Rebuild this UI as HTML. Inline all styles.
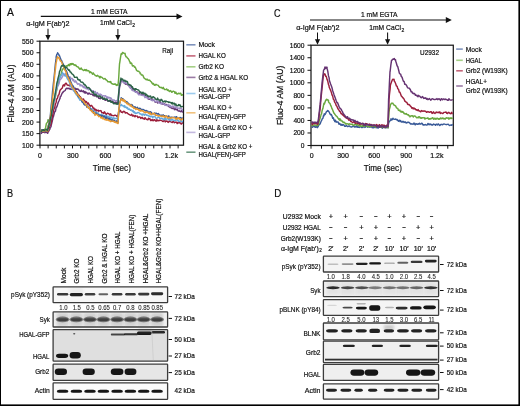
<!DOCTYPE html>
<html><head><meta charset="utf-8"><style>
html,body{margin:0;padding:0;background:#fff;}
body{width:520px;height:406px;overflow:hidden;}
svg{display:block;font-family:"Liberation Sans",sans-serif;}
text{fill:#0e0e0e;stroke:#0e0e0e;stroke-width:0.2px;}
svg{will-change:transform;filter:blur(0.3px);}
text.n{stroke:#1e1e1e;stroke-width:0.08px;fill:#1e1e1e;}
</style></head><body>
<svg width="520" height="406" viewBox="0 0 520 406">
<defs>
<filter id="bl" x="-50%" y="-100%" width="200%" height="300%"><feGaussianBlur stdDeviation="0.5"/></filter><filter id="bl2" x="-50%" y="-50%" width="200%" height="200%"><feGaussianBlur stdDeviation="1.5"/></filter>
<clipPath id="clipA"><rect x="40.5" y="41.7" width="142.5" height="103"/></clipPath>
<clipPath id="clipC"><rect x="311.5" y="45.7" width="141.3" height="99.3"/></clipPath>
</defs>
<rect x="0" y="0" width="520" height="406" fill="#fff"/>
<text x="6.9" y="16.3" font-size="11.5" text-anchor="start" textLength="6.9" lengthAdjust="spacingAndGlyphs" >A</text>
<line x1="40.8" y1="16.4" x2="178.5" y2="16.4" stroke="#111" stroke-width="1.1"/>
<path d="M176.5,13.399999999999999 L182.5,16.4 L176.5,19.4 Z" fill="#111"/>
<text x="91.0" y="13.9" font-size="7.4" text-anchor="start" textLength="36.5" lengthAdjust="spacingAndGlyphs" >1 mM EGTA</text>
<text x="26.2" y="25.8" font-size="7.4" text-anchor="start" textLength="43.3" lengthAdjust="spacingAndGlyphs" >α-IgM F(ab′)2</text>
<text x="100.0" y="25.4" font-size="7.4" text-anchor="start" textLength="31.7" lengthAdjust="spacingAndGlyphs" >1mM CaCl</text>
<text x="132.2" y="27.4" font-size="5" text-anchor="start" >2</text>
<line x1="48" y1="28.8" x2="48" y2="37.5" stroke="#111" stroke-width="1.05"/>
<path d="M45.4,34.9 L50.6,34.9 L48,40.5 Z" fill="#111"/>
<line x1="117.9" y1="29" x2="117.9" y2="37.5" stroke="#111" stroke-width="1.05"/>
<path d="M115.30000000000001,34.9 L120.5,34.9 L117.9,40.5 Z" fill="#111"/>
<rect x="39.9" y="41.2" width="143.6" height="104" fill="none" stroke="#1a1a1a" stroke-width="1.25"/>
<line x1="36.5" y1="41.20" x2="40" y2="41.20" stroke="#111" stroke-width="1"/>
<text x="33.5" y="43.7" font-size="7.4" text-anchor="end" textLength="11.5" lengthAdjust="spacingAndGlyphs" >550</text>
<line x1="36.5" y1="52.76" x2="40" y2="52.76" stroke="#111" stroke-width="1"/>
<text x="33.5" y="55.25555555555556" font-size="7.4" text-anchor="end" textLength="11.5" lengthAdjust="spacingAndGlyphs" >500</text>
<line x1="36.5" y1="64.31" x2="40" y2="64.31" stroke="#111" stroke-width="1"/>
<text x="33.5" y="66.81111111111112" font-size="7.4" text-anchor="end" textLength="11.5" lengthAdjust="spacingAndGlyphs" >450</text>
<line x1="36.5" y1="75.87" x2="40" y2="75.87" stroke="#111" stroke-width="1"/>
<text x="33.5" y="78.36666666666667" font-size="7.4" text-anchor="end" textLength="11.5" lengthAdjust="spacingAndGlyphs" >400</text>
<line x1="36.5" y1="87.42" x2="40" y2="87.42" stroke="#111" stroke-width="1"/>
<text x="33.5" y="89.92222222222222" font-size="7.4" text-anchor="end" textLength="11.5" lengthAdjust="spacingAndGlyphs" >350</text>
<line x1="36.5" y1="98.98" x2="40" y2="98.98" stroke="#111" stroke-width="1"/>
<text x="33.5" y="101.47777777777779" font-size="7.4" text-anchor="end" textLength="11.5" lengthAdjust="spacingAndGlyphs" >300</text>
<line x1="36.5" y1="110.53" x2="40" y2="110.53" stroke="#111" stroke-width="1"/>
<text x="33.5" y="113.03333333333333" font-size="7.4" text-anchor="end" textLength="11.5" lengthAdjust="spacingAndGlyphs" >250</text>
<line x1="36.5" y1="122.09" x2="40" y2="122.09" stroke="#111" stroke-width="1"/>
<text x="33.5" y="124.58888888888889" font-size="7.4" text-anchor="end" textLength="11.5" lengthAdjust="spacingAndGlyphs" >200</text>
<line x1="36.5" y1="133.64" x2="40" y2="133.64" stroke="#111" stroke-width="1"/>
<text x="33.5" y="136.14444444444445" font-size="7.4" text-anchor="end" textLength="11.5" lengthAdjust="spacingAndGlyphs" >150</text>
<line x1="36.5" y1="145.20" x2="40" y2="145.20" stroke="#111" stroke-width="1"/>
<text x="33.5" y="147.7" font-size="7.4" text-anchor="end" textLength="11.5" lengthAdjust="spacingAndGlyphs" >100</text>
<line x1="40.00" y1="145.2" x2="40.00" y2="148.4" stroke="#111" stroke-width="1"/>
<line x1="48.12" y1="145.2" x2="48.12" y2="148.4" stroke="#111" stroke-width="1"/>
<line x1="56.25" y1="145.2" x2="56.25" y2="148.4" stroke="#111" stroke-width="1"/>
<line x1="64.38" y1="145.2" x2="64.38" y2="148.4" stroke="#111" stroke-width="1"/>
<line x1="72.50" y1="145.2" x2="72.50" y2="148.4" stroke="#111" stroke-width="1"/>
<line x1="80.62" y1="145.2" x2="80.62" y2="148.4" stroke="#111" stroke-width="1"/>
<line x1="88.75" y1="145.2" x2="88.75" y2="148.4" stroke="#111" stroke-width="1"/>
<line x1="96.88" y1="145.2" x2="96.88" y2="148.4" stroke="#111" stroke-width="1"/>
<line x1="105.00" y1="145.2" x2="105.00" y2="148.4" stroke="#111" stroke-width="1"/>
<line x1="113.12" y1="145.2" x2="113.12" y2="148.4" stroke="#111" stroke-width="1"/>
<line x1="121.25" y1="145.2" x2="121.25" y2="148.4" stroke="#111" stroke-width="1"/>
<line x1="129.38" y1="145.2" x2="129.38" y2="148.4" stroke="#111" stroke-width="1"/>
<line x1="137.50" y1="145.2" x2="137.50" y2="148.4" stroke="#111" stroke-width="1"/>
<line x1="145.62" y1="145.2" x2="145.62" y2="148.4" stroke="#111" stroke-width="1"/>
<line x1="153.75" y1="145.2" x2="153.75" y2="148.4" stroke="#111" stroke-width="1"/>
<line x1="161.88" y1="145.2" x2="161.88" y2="148.4" stroke="#111" stroke-width="1"/>
<line x1="170.00" y1="145.2" x2="170.00" y2="148.4" stroke="#111" stroke-width="1"/>
<line x1="178.12" y1="145.2" x2="178.12" y2="148.4" stroke="#111" stroke-width="1"/>
<text x="39.9" y="157.8" font-size="7.4" text-anchor="middle" textLength="3.91" lengthAdjust="spacingAndGlyphs" >0</text>
<text x="72.8" y="157.8" font-size="7.4" text-anchor="middle" textLength="11.73" lengthAdjust="spacingAndGlyphs" >300</text>
<text x="105.4" y="157.8" font-size="7.4" text-anchor="middle" textLength="11.73" lengthAdjust="spacingAndGlyphs" >600</text>
<text x="138.8" y="157.8" font-size="7.4" text-anchor="middle" textLength="11.73" lengthAdjust="spacingAndGlyphs" >900</text>
<text x="171.4" y="157.8" font-size="7.4" text-anchor="middle" textLength="13.29" lengthAdjust="spacingAndGlyphs" >1.2k</text>
<text x="92.8" y="170.6" font-size="9.2" text-anchor="start" textLength="38.1" lengthAdjust="spacingAndGlyphs" >Time (sec)</text>
<text x="0" y="0" font-size="9.2" text-anchor="middle" textLength="58" lengthAdjust="spacingAndGlyphs" transform="translate(13.7,93.5) rotate(-90)">Fluo-4 AM (AU)</text>
<text x="162.3" y="52.7" font-size="7.8" text-anchor="start" textLength="10.8" lengthAdjust="spacingAndGlyphs" >Raji</text>
<g clip-path="url(#clipA)">
<polyline points="40.00,130.25 40.70,129.87 41.40,130.85 42.10,129.66 42.80,130.56 43.50,130.19 44.20,129.55 44.90,130.42 45.00,129.47 45.60,127.71 46.30,123.99 46.50,123.18 47.00,122.68 47.70,121.85 48.00,119.75 48.40,120.08 49.10,121.12 49.50,121.90 49.80,120.07 50.50,117.19 51.20,115.83 51.90,111.45 52.00,112.72 52.60,108.80 53.30,105.27 54.00,101.98 54.70,99.12 55.40,96.89 56.10,92.38 56.80,89.94 57.40,87.28 57.50,86.39 58.20,84.27 58.90,80.83 59.60,78.35 60.30,76.17 61.00,74.65 61.70,71.67 62.30,69.33 62.40,69.78 63.10,68.90 63.80,67.98 64.50,68.36 65.20,67.55 65.90,66.03 66.60,66.08 67.20,65.45 67.30,66.12 68.00,65.61 68.70,64.50 69.40,65.67 70.10,63.72 70.80,64.10 71.00,64.71 71.50,63.55 72.20,64.28 72.90,63.44 73.60,64.75 74.30,65.00 74.60,64.65 75.00,65.55 75.70,64.94 76.40,66.22 77.10,66.54 77.80,67.03 78.50,67.30 79.20,68.59 79.90,69.32 80.00,68.45 80.60,69.01 81.30,68.01 82.00,69.50 82.70,69.60 83.40,70.51 84.10,70.37 84.80,69.51 85.00,69.77 85.50,70.57 86.20,69.61 86.90,70.81 87.60,70.55 88.30,70.77 89.00,70.98 89.70,72.73 90.40,71.78 91.10,72.34 91.80,72.96 92.50,74.24 93.20,72.99 93.90,74.05 94.60,74.58 95.30,75.57 96.00,75.77 96.70,76.19 97.40,75.34 98.10,75.94 98.80,76.16 99.50,77.54 100.00,77.92 100.20,76.40 100.90,76.80 101.60,77.26 102.30,77.62 103.00,78.47 103.70,79.03 104.40,78.73 105.10,78.56 105.80,79.74 106.50,79.99 107.20,80.73 107.90,81.86 108.60,81.68 109.30,81.68 110.00,82.24 110.00,82.35 110.70,81.46 111.40,83.50 112.10,83.61 112.80,84.15 113.50,84.35 114.20,83.88 114.90,84.25 115.60,84.01 116.30,85.42 117.00,84.62 117.70,84.98 118.00,85.42 118.40,81.32 118.60,79.68 119.10,70.77 119.50,64.00 119.80,62.30 120.50,57.54 121.00,54.73 121.20,53.72 121.90,54.25 122.20,53.23 122.60,52.44 123.30,52.90 124.00,53.34 124.70,53.62 125.00,53.25 125.40,55.38 126.10,56.86 126.80,56.99 127.50,58.22 128.20,58.61 128.90,59.83 129.60,61.51 130.00,62.03 130.30,63.47 131.00,62.87 131.70,63.33 132.40,65.92 133.10,65.81 133.80,65.78 134.50,67.31 135.20,67.01 135.90,68.75 136.60,70.39 137.30,70.89 138.00,71.29 138.70,71.16 139.40,72.10 140.00,72.33 140.10,73.64 140.80,73.87 141.50,75.06 142.20,74.86 142.90,75.35 143.60,77.22 144.30,78.27 145.00,78.71 145.70,79.31 146.00,79.64 146.40,79.72 147.10,79.13 147.80,80.14 148.50,80.24 149.20,80.01 149.90,80.44 150.60,81.37 151.30,81.76 152.00,83.05 152.70,84.01 153.40,83.42 154.10,84.82 154.80,85.35 155.00,85.41 155.50,84.45 156.20,84.48 156.90,84.81 157.60,85.06 158.30,85.39 159.00,86.55 159.70,87.42 160.40,87.61 161.10,87.20 161.80,87.87 162.50,88.47 163.20,87.36 163.90,88.83 164.60,89.64 165.00,89.56 165.30,89.61 166.00,89.31 166.70,88.95 167.40,90.42 168.10,89.75 168.80,90.93 169.50,91.52 170.20,90.61 170.90,90.87 171.60,92.20 172.30,92.00 173.00,91.14 173.70,91.30 174.40,91.59 175.00,93.31 175.10,93.14 175.80,92.02 176.50,93.58 177.20,94.09 177.90,93.65 178.60,93.24 179.30,93.83 180.00,93.20 180.70,93.17 181.40,95.28 182.10,94.84 182.80,94.80 183.00,95.67" fill="none" stroke="#6aa83e" stroke-width="1.45" stroke-linejoin="round"/>
<polyline points="40.00,132.67 40.70,133.52 41.40,133.40 42.10,132.14 42.80,132.20 43.50,132.25 44.20,132.12 44.90,132.79 45.60,132.11 46.30,132.40 47.00,131.80 47.70,133.33 48.00,132.21 48.40,131.55 49.10,130.28 49.80,129.41 50.50,126.92 51.00,126.84 51.20,125.20 51.90,122.46 52.60,119.65 53.00,117.04 53.30,116.96 54.00,114.31 54.70,111.81 55.40,111.27 56.10,107.87 56.60,106.95 56.80,106.92 57.50,104.73 58.20,102.42 58.90,100.95 59.60,99.17 60.00,98.57 60.30,96.61 61.00,96.12 61.70,94.10 62.40,92.75 63.00,92.54 63.10,91.91 63.80,91.28 64.50,90.94 65.20,90.50 65.90,88.83 66.60,88.43 66.60,88.21 67.30,88.29 68.00,88.71 68.70,88.29 69.40,88.51 70.00,88.46 70.10,89.39 70.80,88.98 71.50,89.40 72.20,89.60 72.90,88.31 73.60,88.98 74.30,89.82 75.00,89.68 75.00,88.27 75.70,88.45 76.40,89.30 77.10,88.78 77.80,89.32 78.50,89.20 79.20,90.60 79.90,91.04 80.60,91.47 81.30,90.20 82.00,91.53 82.70,91.63 83.40,90.81 84.10,92.50 84.80,92.88 85.00,91.44 85.50,93.11 86.20,92.28 86.90,92.73 87.60,94.02 88.30,93.98 89.00,92.92 89.70,93.74 90.40,94.19 91.10,94.12 91.80,94.11 92.50,94.64 93.20,95.72 93.90,94.60 94.60,95.95 95.00,95.88 95.30,95.14 96.00,96.01 96.70,96.84 97.40,96.86 98.10,96.21 98.80,98.30 99.50,98.15 100.20,98.76 100.90,97.27 101.60,97.84 102.30,97.63 103.00,99.36 103.70,98.59 104.40,98.55 105.00,99.34 105.10,100.35 105.80,100.38 106.50,99.48 107.20,99.48 107.90,101.23 108.60,100.75 109.30,101.22 110.00,100.22 110.70,100.37 111.40,101.85 112.10,101.54 112.80,101.04 113.50,102.99 114.20,102.60 114.90,103.15 115.60,101.93 116.30,103.69 117.00,102.33 117.70,104.13 118.00,103.41 118.40,98.18 118.60,96.11 119.10,92.41 119.50,87.54 119.80,85.96 120.50,83.72 121.00,80.98 121.20,80.82 121.90,81.27 122.60,81.40 123.30,82.05 124.00,82.62 124.70,82.96 125.40,84.22 126.00,83.58 126.10,84.08 126.80,83.98 127.50,84.86 128.20,84.75 128.90,85.76 129.60,85.83 130.30,87.81 131.00,87.99 131.70,87.81 132.40,88.93 133.10,90.39 133.80,89.28 134.50,91.25 135.00,90.86 135.20,91.10 135.90,92.15 136.60,91.64 137.30,92.24 138.00,92.98 138.70,93.94 139.40,93.03 140.10,94.38 140.80,94.51 141.50,94.74 142.20,94.65 142.90,94.91 143.60,94.70 144.30,95.22 145.00,95.47 145.70,97.19 146.40,96.59 147.10,96.78 147.80,97.00 148.50,98.88 149.20,99.31 149.90,99.29 150.00,98.56 150.60,98.72 151.30,99.11 152.00,99.72 152.70,99.40 153.40,100.25 154.10,100.17 154.80,101.84 155.50,102.15 156.20,101.57 156.90,101.25 157.60,102.97 158.30,101.94 159.00,102.31 159.70,101.88 160.40,102.92 161.10,103.39 161.80,103.73 162.50,103.40 163.20,104.29 163.90,103.57 164.60,104.37 165.00,104.18 165.30,104.92 166.00,104.47 166.70,104.71 167.40,105.54 168.10,105.67 168.80,106.65 169.50,106.81 170.20,107.52 170.90,107.61 171.60,108.00 172.30,108.60 173.00,107.89 173.70,108.04 174.40,109.63 175.10,108.23 175.80,109.65 176.50,109.76 177.20,108.83 177.90,110.69 178.60,111.07 179.30,110.82 180.00,111.30 180.70,111.73 181.40,110.66 182.10,111.70 182.80,111.93 183.00,112.67" fill="none" stroke="#663372" stroke-width="1.45" stroke-linejoin="round"/>
<polyline points="40.00,131.21 40.70,131.25 41.40,130.77 42.10,131.39 42.80,130.97 43.50,130.99 44.20,130.06 44.90,129.66 45.60,129.87 46.30,130.32 47.00,129.81 47.70,131.27 48.00,130.72 48.40,129.64 49.10,127.51 49.80,125.49 50.50,122.98 50.50,122.01 51.20,119.40 51.90,115.10 52.60,110.41 53.00,108.07 53.30,106.76 54.00,101.94 54.70,99.64 55.40,95.04 56.10,91.05 56.60,88.83 56.80,89.21 57.50,86.25 58.20,85.40 58.90,83.96 59.60,81.08 60.00,79.77 60.30,79.51 61.00,78.87 61.70,77.98 62.40,76.63 63.00,75.79 63.10,74.59 63.80,74.31 64.50,74.11 65.20,74.67 65.50,73.61 65.90,74.38 66.60,73.68 67.30,74.20 68.00,75.04 68.00,75.84 68.70,76.50 69.40,77.08 70.10,76.92 70.80,77.98 71.50,78.49 72.00,78.93 72.20,78.39 72.90,80.46 73.60,79.60 74.30,81.68 75.00,82.12 75.70,80.81 76.40,82.22 77.10,83.46 77.80,84.29 78.50,83.77 79.20,83.94 79.90,84.34 80.00,85.89 80.60,84.71 81.30,85.80 82.00,85.26 82.70,86.36 83.40,87.56 84.10,86.26 84.80,87.98 85.50,87.69 86.20,88.79 86.90,88.76 87.60,88.16 88.30,89.83 89.00,89.35 89.70,88.77 90.40,89.07 91.10,90.39 91.80,90.64 92.50,90.69 93.20,90.71 93.90,91.45 94.60,91.74 95.00,92.98 95.30,91.43 96.00,93.22 96.70,93.69 97.40,92.55 98.10,94.45 98.80,94.32 99.50,94.99 100.20,94.06 100.90,94.52 101.60,94.86 102.30,96.36 103.00,95.84 103.70,95.68 104.40,96.10 105.00,96.05 105.10,95.63 105.80,95.98 106.50,97.69 107.20,96.83 107.90,98.38 108.60,97.24 109.30,97.52 110.00,98.25 110.70,97.85 111.40,98.46 112.10,99.87 112.80,99.97 113.50,100.07 114.20,99.95 114.90,100.75 115.60,101.05 116.30,100.51 117.00,101.09 117.70,100.00 118.00,101.46 118.40,96.24 118.60,94.51 119.10,89.84 119.50,85.57 119.80,84.00 120.50,83.19 121.00,79.75 121.20,80.54 121.90,80.64 122.60,80.90 123.30,82.13 124.00,82.95 124.70,81.87 125.40,83.01 126.00,82.60 126.10,83.22 126.80,83.62 127.50,83.88 128.20,84.60 128.90,85.41 129.60,87.53 130.30,87.44 131.00,87.61 131.70,89.70 132.40,90.61 133.10,90.24 133.80,90.34 134.50,91.17 135.00,91.48 135.20,92.07 135.90,91.88 136.60,92.49 137.30,92.84 138.00,93.78 138.70,94.73 139.40,94.76 140.10,94.40 140.80,94.72 141.50,95.25 142.20,95.27 142.90,95.51 143.60,95.27 144.30,96.01 145.00,97.70 145.70,96.33 146.40,97.40 147.10,97.96 147.80,98.74 148.50,97.76 149.20,98.18 149.90,98.45 150.00,98.80 150.60,99.11 151.30,100.38 152.00,100.43 152.70,100.74 153.40,99.29 154.10,99.57 154.80,101.18 155.50,101.81 156.20,101.22 156.90,101.70 157.60,100.79 158.30,101.83 159.00,103.15 159.70,103.21 160.40,103.52 161.10,104.01 161.80,102.82 162.50,102.80 163.20,103.15 163.90,104.14 164.60,104.72 165.00,105.38 165.30,105.03 166.00,105.08 166.70,105.51 167.40,105.09 168.10,105.48 168.80,104.66 169.50,106.34 170.20,105.44 170.90,107.01 171.60,106.66 172.30,106.18 173.00,106.02 173.70,106.47 174.40,107.44 175.10,107.76 175.80,106.78 176.50,106.90 177.20,108.01 177.90,108.32 178.60,108.13 179.30,108.00 180.00,108.95 180.70,107.97 181.40,108.75 182.10,109.27 182.80,110.46 183.00,109.89" fill="none" stroke="#9d8cc6" stroke-width="1.45" stroke-linejoin="round"/>
<polyline points="40.00,131.37 40.70,130.59 41.40,130.14 42.10,130.20 42.80,131.66 43.50,131.18 44.20,130.42 44.90,129.89 45.60,130.88 46.30,131.26 47.00,130.79 47.70,130.50 48.00,131.33 48.40,130.92 49.10,127.89 49.80,125.87 50.50,124.84 51.00,123.84 51.20,123.27 51.90,118.45 52.60,115.79 53.00,113.48 53.30,111.93 54.00,108.80 54.70,107.80 55.40,103.96 56.10,102.45 56.60,99.46 56.80,98.91 57.50,98.14 58.20,95.35 58.90,94.82 59.60,92.05 60.00,90.37 60.30,89.95 61.00,89.17 61.70,88.50 62.40,87.90 63.00,85.29 63.10,85.72 63.80,84.89 64.50,85.95 65.20,83.82 65.90,83.17 66.00,83.12 66.60,83.94 67.30,85.12 68.00,85.27 68.70,85.14 69.40,85.85 70.00,85.86 70.10,84.76 70.80,85.17 71.50,87.37 72.00,87.49 72.20,86.31 72.90,88.45 73.60,88.76 74.30,89.62 75.00,90.41 75.70,90.96 76.40,91.51 77.10,92.93 77.80,93.95 78.50,96.04 79.20,95.25 79.90,97.80 80.00,96.41 80.60,97.21 81.30,98.73 82.00,99.31 82.70,99.11 83.40,98.93 84.10,100.36 84.80,100.75 85.50,102.42 86.20,101.55 86.90,102.48 87.60,104.13 88.30,102.98 89.00,104.32 89.70,105.71 90.40,106.20 91.10,105.33 91.80,105.90 92.50,106.54 93.20,108.84 93.90,108.10 94.60,109.66 95.00,110.30 95.30,109.28 96.00,109.39 96.70,111.01 97.40,110.57 98.10,110.11 98.80,111.26 99.50,110.71 100.20,110.87 100.90,110.57 101.60,112.32 102.30,112.89 103.00,112.57 103.70,113.43 104.40,111.84 105.00,112.47 105.10,112.98 105.80,114.12 106.50,114.29 107.20,113.33 107.90,113.24 108.60,113.77 109.30,114.08 110.00,115.13 110.70,113.81 111.40,115.23 112.10,115.28 112.80,115.63 113.50,115.70 114.20,115.55 114.90,115.17 115.60,115.33 116.30,115.59 117.00,116.61 117.70,115.38 118.00,115.69 118.40,114.61 118.60,112.49 119.10,111.34 119.80,110.18 120.00,110.91 120.50,110.62 121.20,112.17 121.90,112.21 122.60,112.66 123.30,111.45 124.00,111.33 124.70,111.59 125.00,112.50 125.40,113.07 126.10,112.81 126.80,112.65 127.50,113.28 128.20,113.96 128.90,114.33 129.60,114.74 130.30,115.21 131.00,115.11 131.70,114.29 132.40,115.99 133.10,115.17 133.80,115.98 134.50,115.86 135.00,116.78 135.20,115.74 135.90,115.99 136.60,116.13 137.30,116.10 138.00,117.71 138.70,117.25 139.40,116.89 140.10,117.18 140.80,118.52 141.50,117.70 142.20,117.30 142.90,118.60 143.60,118.44 144.30,119.27 145.00,117.64 145.70,118.53 146.40,119.37 147.10,119.56 147.80,119.86 148.50,118.26 149.20,118.92 149.90,118.72 150.00,118.88 150.60,120.53 151.30,119.84 152.00,120.63 152.70,119.60 153.40,120.69 154.10,119.94 154.80,119.66 155.50,120.79 156.20,121.22 156.90,119.63 157.60,120.71 158.30,120.85 159.00,120.14 159.70,120.53 160.40,120.17 161.10,120.39 161.80,120.58 162.50,121.37 163.20,121.56 163.90,120.76 164.60,120.47 165.00,121.15 165.30,121.88 166.00,120.96 166.70,121.28 167.40,121.13 168.10,122.38 168.80,121.95 169.50,121.05 170.20,121.19 170.90,121.85 171.60,122.22 172.30,122.47 173.00,121.44 173.70,121.65 174.40,122.78 175.10,122.27 175.80,122.09 176.50,122.20 177.20,123.56 177.90,122.34 178.60,122.92 179.30,122.56 180.00,122.75 180.70,123.71 181.40,124.04 182.10,122.84 182.80,122.58 183.00,123.66" fill="none" stroke="#9c1f3b" stroke-width="1.45" stroke-linejoin="round"/>
<polyline points="40.00,130.01 40.70,129.59 41.40,131.37 42.10,130.39 42.80,131.17 43.50,130.32 44.20,131.25 44.90,130.39 45.60,129.78 46.30,129.46 47.00,130.52 47.50,130.68 47.70,130.63 48.40,126.91 49.10,125.91 49.80,123.33 50.00,123.01 50.50,119.42 51.20,115.67 51.90,112.12 52.60,108.90 53.30,103.24 54.00,99.98 54.00,100.61 54.70,97.43 55.40,92.39 56.10,88.75 56.80,86.89 57.50,83.45 58.00,79.97 58.20,78.80 58.90,79.46 59.60,77.30 60.30,77.25 61.00,75.60 61.70,74.93 62.40,72.52 62.40,73.77 63.10,73.19 63.80,74.10 64.50,75.53 65.20,76.04 65.90,75.29 66.00,75.44 66.60,77.00 67.30,78.64 68.00,79.77 68.70,80.65 69.40,82.29 70.10,84.65 70.80,86.39 71.50,86.08 72.00,88.12 72.20,88.81 72.90,88.43 73.60,91.08 74.30,90.69 75.00,92.70 75.70,93.65 76.40,94.85 77.10,95.26 77.80,96.54 78.50,97.92 79.20,98.65 79.90,100.17 80.00,99.89 80.60,100.36 81.30,100.10 82.00,101.86 82.70,102.18 83.40,102.24 84.10,103.86 84.80,104.46 85.50,104.39 86.20,104.40 86.90,105.56 87.60,105.40 88.30,106.01 89.00,107.18 89.70,107.07 90.40,108.34 91.10,109.05 91.80,108.68 92.50,110.44 93.20,109.90 93.90,111.77 94.60,112.43 95.00,112.22 95.30,111.42 96.00,112.59 96.70,112.60 97.40,114.01 98.10,112.65 98.80,114.36 99.50,114.90 100.20,114.64 100.90,115.07 101.60,114.10 102.30,115.94 103.00,115.22 103.70,116.42 104.40,116.60 105.00,115.33 105.10,116.60 105.80,117.08 106.50,115.55 107.20,116.31 107.90,117.32 108.60,116.31 109.30,117.98 110.00,116.93 110.70,118.21 111.40,117.06 112.10,117.97 112.80,119.00 113.50,117.77 114.20,118.07 114.90,118.75 115.60,118.57 116.30,118.20 117.00,118.69 117.70,118.84 118.00,120.47 118.40,114.89 118.60,112.79 119.10,108.56 119.50,107.57 119.80,105.75 120.50,105.46 121.00,104.87 121.20,104.41 121.90,105.77 122.60,105.47 123.30,105.85 124.00,106.79 124.70,105.57 125.00,107.49 125.40,107.00 126.10,106.96 126.80,108.19 127.50,107.55 128.20,109.43 128.90,109.03 129.60,109.03 130.30,110.26 131.00,110.04 131.70,109.94 132.40,111.50 133.10,110.54 133.80,112.51 134.50,111.80 135.00,112.88 135.20,113.62 135.90,113.01 136.60,113.34 137.30,112.82 138.00,112.38 138.70,112.63 139.40,113.04 140.10,114.16 140.80,113.97 141.50,114.32 142.20,115.26 142.90,113.92 143.60,114.29 144.30,115.32 145.00,114.24 145.70,114.39 146.40,115.27 147.10,114.96 147.80,115.64 148.50,115.56 149.20,116.46 149.90,116.65 150.00,115.91 150.60,116.85 151.30,116.67 152.00,116.10 152.70,117.82 153.40,116.55 154.10,116.48 154.80,116.49 155.50,117.69 156.20,118.28 156.90,118.21 157.60,117.57 158.30,117.41 159.00,117.02 159.70,118.41 160.40,118.36 161.10,118.05 161.80,118.76 162.50,118.47 163.20,119.57 163.90,119.28 164.60,118.43 165.00,119.81 165.30,118.13 166.00,119.19 166.70,119.03 167.40,118.78 168.10,118.51 168.80,120.04 169.50,118.60 170.20,119.77 170.90,120.64 171.60,119.13 172.30,119.33 173.00,120.24 173.70,120.13 174.40,120.48 175.10,120.92 175.80,119.73 176.50,120.09 177.20,120.16 177.90,119.75 178.60,121.52 179.30,121.39 180.00,121.35 180.70,120.02 181.40,121.78 182.10,121.68 182.80,121.20 183.00,121.78" fill="none" stroke="#66a9dc" stroke-width="1.45" stroke-linejoin="round"/>
<polyline points="40.00,130.50 40.70,130.05 41.40,129.81 42.10,130.06 42.80,129.68 43.50,130.27 44.20,131.10 44.90,130.99 45.60,131.29 46.30,131.02 47.00,130.13 47.00,130.71 47.70,127.53 48.40,125.30 49.10,121.83 49.80,118.37 50.00,118.28 50.50,113.93 51.20,105.43 51.90,99.76 52.60,91.03 53.00,87.52 53.30,84.39 54.00,78.22 54.70,71.44 54.90,68.99 55.40,63.73 56.10,58.64 56.20,56.66 56.80,54.55 57.50,53.64 57.60,52.76 58.20,53.74 58.90,54.69 59.00,55.46 59.60,55.84 60.30,58.21 60.50,58.40 61.00,59.91 61.70,60.74 62.30,62.75 62.40,62.68 63.10,63.80 63.80,65.25 64.50,67.72 65.20,68.27 65.90,71.59 66.00,70.29 66.60,71.45 67.30,73.23 68.00,76.51 68.70,76.97 69.40,78.19 69.70,78.66 70.10,79.48 70.80,82.19 71.50,83.47 72.20,84.99 72.90,86.47 73.40,86.13 73.60,87.53 74.30,88.31 75.00,90.44 75.70,91.68 76.40,93.05 77.10,92.63 77.80,95.46 78.30,96.43 78.50,96.77 79.20,96.08 79.90,97.26 80.60,98.05 81.30,98.88 82.00,101.49 82.70,102.40 83.40,103.02 84.10,104.39 84.80,104.98 85.00,104.57 85.50,104.62 86.20,105.22 86.90,107.13 87.60,106.62 88.30,107.44 89.00,108.25 89.70,108.04 90.40,109.10 91.10,109.75 91.80,111.21 92.50,111.11 93.20,111.61 93.90,113.49 94.60,113.17 95.00,114.20 95.30,113.86 96.00,112.96 96.70,114.01 97.40,114.33 98.10,115.29 98.80,114.71 99.50,115.71 100.20,115.66 100.90,115.29 101.60,116.86 102.30,115.60 103.00,117.34 103.70,116.32 104.40,116.26 105.00,116.90 105.10,118.06 105.80,118.75 106.50,117.06 107.20,118.29 107.90,118.55 108.60,119.42 109.30,118.46 110.00,119.34 110.70,119.30 111.40,120.53 112.10,119.64 112.80,121.27 113.50,120.21 114.20,120.33 114.90,121.55 115.60,121.41 116.30,120.89 117.00,122.20 117.70,121.35 118.00,122.88 118.40,115.83 118.60,112.57 119.10,107.81 119.50,103.71 119.80,102.70 120.50,100.12 121.00,99.28 121.20,97.80 121.90,99.84 122.60,98.55 123.30,99.35 124.00,99.90 124.70,101.61 125.00,101.00 125.40,101.01 126.10,102.46 126.80,101.60 127.50,102.50 128.20,103.08 128.90,103.97 129.60,104.40 130.30,104.63 131.00,104.48 131.70,104.87 132.40,104.97 133.10,106.79 133.80,106.87 134.50,107.47 135.00,106.64 135.20,107.25 135.90,108.16 136.60,108.01 137.30,107.35 138.00,108.26 138.70,109.35 139.40,108.30 140.10,108.45 140.80,108.91 141.50,109.96 142.20,110.48 142.90,109.35 143.60,109.59 144.30,110.02 145.00,110.42 145.70,111.05 146.40,110.57 147.10,111.15 147.80,111.12 148.50,112.93 149.20,112.68 149.90,111.67 150.00,113.42 150.60,111.84 151.30,112.57 152.00,113.93 152.70,113.72 153.40,113.76 154.10,113.33 154.80,113.01 155.50,114.06 156.20,113.16 156.90,113.52 157.60,114.05 158.30,113.50 159.00,114.40 159.70,115.35 160.40,115.31 161.10,115.09 161.80,115.52 162.50,115.34 163.20,114.86 163.90,115.95 164.60,115.72 165.00,116.48 165.30,116.85 166.00,115.99 166.70,116.37 167.40,116.80 168.10,116.24 168.80,115.94 169.50,117.02 170.20,117.42 170.90,117.30 171.60,117.24 172.30,117.64 173.00,117.38 173.70,117.39 174.40,117.11 175.10,116.92 175.80,117.64 176.50,116.67 177.20,117.40 177.90,118.21 178.60,118.16 179.30,118.09 180.00,117.42 180.70,117.85 181.40,118.01 182.10,118.43 182.80,118.09 183.00,118.65" fill="none" stroke="#395a98" stroke-width="1.45" stroke-linejoin="round"/>
<polyline points="40.00,131.46 40.70,129.97 41.40,130.91 42.10,131.16 42.80,130.38 43.50,130.58 44.20,131.55 44.90,129.68 45.60,130.69 46.30,129.92 47.00,131.16 47.50,131.48 47.70,129.79 48.40,125.99 49.10,123.97 49.80,120.93 50.00,120.43 50.50,115.86 51.20,110.28 51.90,104.82 52.60,98.38 53.00,94.82 53.30,92.45 54.00,82.92 54.70,75.82 55.00,71.78 55.40,69.38 56.10,62.60 56.40,61.97 56.80,59.51 57.50,56.81 57.60,56.95 58.20,57.67 58.90,57.45 59.00,58.34 59.60,59.34 60.30,61.06 60.50,60.70 61.00,61.22 61.70,62.12 62.30,63.98 62.40,64.62 63.10,65.50 63.80,66.59 64.50,69.45 65.20,70.34 65.90,71.68 66.00,71.76 66.60,74.51 67.30,76.28 68.00,77.63 68.70,79.01 69.40,80.89 69.70,80.95 70.10,83.17 70.80,83.25 71.50,85.12 72.20,86.78 72.90,88.08 73.60,88.68 74.30,89.63 74.60,90.70 75.00,90.40 75.70,92.77 76.40,92.78 77.10,94.73 77.80,94.52 78.50,95.70 79.20,96.41 79.90,97.72 80.00,97.37 80.60,97.67 81.30,99.87 82.00,99.76 82.70,100.46 83.40,101.34 84.10,102.47 84.80,103.14 85.50,104.32 86.20,105.14 86.90,105.31 87.60,107.22 88.30,107.84 89.00,107.01 89.70,109.33 90.40,110.25 91.10,110.78 91.80,110.26 92.50,112.41 93.20,112.79 93.90,112.32 94.60,113.08 95.00,115.40 95.30,114.95 96.00,114.45 96.70,114.47 97.40,114.87 98.10,115.36 98.80,116.76 99.50,116.22 100.20,116.15 100.90,117.96 101.60,118.05 102.30,117.12 103.00,118.88 103.70,118.63 104.40,119.29 105.00,119.34 105.10,119.82 105.80,119.85 106.50,120.20 107.20,119.16 107.90,120.39 108.60,120.31 109.30,120.97 110.00,120.61 110.70,121.74 111.40,121.33 112.10,120.99 112.80,121.17 113.50,121.22 114.20,122.17 114.90,121.54 115.60,122.60 116.30,122.20 117.00,123.14 117.70,123.39 118.00,123.58 118.40,116.56 118.60,111.01 119.10,108.24 119.50,103.94 119.80,103.09 120.50,100.86 121.00,99.48 121.20,98.68 121.90,99.25 122.60,100.80 123.30,99.50 124.00,101.10 124.70,101.57 125.00,100.56 125.40,102.00 126.10,102.65 126.80,103.64 127.50,102.94 128.20,104.74 128.90,104.29 129.60,104.74 130.30,106.06 131.00,104.83 131.70,106.69 132.40,107.00 133.10,106.93 133.80,108.47 134.50,107.98 135.00,108.55 135.20,108.72 135.90,109.44 136.60,108.54 137.30,109.22 138.00,109.42 138.70,109.92 139.40,110.69 140.10,109.85 140.80,111.15 141.50,110.53 142.20,110.96 142.90,110.72 143.60,111.42 144.30,112.59 145.00,112.18 145.70,112.68 146.40,111.99 147.10,112.19 147.80,112.38 148.50,113.18 149.20,113.51 149.90,114.04 150.00,112.58 150.60,114.08 151.30,114.56 152.00,114.03 152.70,113.19 153.40,113.85 154.10,113.41 154.80,113.94 155.50,115.55 156.20,115.08 156.90,115.33 157.60,115.75 158.30,116.15 159.00,115.70 159.70,115.87 160.40,116.04 161.10,116.33 161.80,116.29 162.50,116.61 163.20,115.83 163.90,116.89 164.60,116.63 165.00,117.33 165.30,116.05 166.00,116.31 166.70,116.12 167.40,117.70 168.10,118.08 168.80,117.66 169.50,117.19 170.20,118.20 170.90,118.23 171.60,117.88 172.30,117.37 173.00,117.56 173.70,117.90 174.40,117.79 175.10,118.12 175.80,118.64 176.50,119.33 177.20,117.67 177.90,118.80 178.60,117.84 179.30,118.10 180.00,119.59 180.70,119.22 181.40,120.01 182.10,119.16 182.80,118.40 183.00,119.17" fill="none" stroke="#e99a30" stroke-width="1.45" stroke-linejoin="round"/>
<polyline points="40.00,130.78 40.70,131.46 41.40,131.52 42.10,130.49 42.80,130.35 43.50,129.71 44.20,130.78 44.90,129.89 45.60,129.75 46.30,129.46 47.00,129.42 47.50,130.77 47.70,128.97 48.40,128.31 49.10,124.20 49.80,123.41 50.00,121.26 50.50,118.29 51.20,115.84 51.90,111.03 52.60,108.17 53.30,103.22 54.00,99.10 54.00,100.55 54.70,96.52 55.40,92.89 56.10,88.72 56.80,83.52 57.40,81.26 57.50,81.00 58.20,77.54 58.90,75.52 59.60,71.20 60.00,70.93 60.30,69.83 61.00,67.02 61.70,65.63 62.30,65.70 62.40,66.08 63.10,64.96 63.80,65.77 64.50,66.96 64.50,65.83 65.20,67.78 65.90,67.59 66.60,67.30 67.30,68.48 68.00,69.45 68.50,69.58 68.70,70.28 69.40,69.99 70.10,72.08 70.80,71.99 71.50,73.33 72.20,74.08 72.90,74.44 73.60,75.16 74.30,76.74 74.60,77.39 75.00,77.34 75.70,77.39 76.40,77.32 77.10,77.33 77.80,79.64 78.50,79.58 79.20,80.31 79.90,79.80 80.00,80.41 80.60,81.71 81.30,82.08 82.00,82.27 82.70,82.34 83.40,83.23 84.10,84.80 84.80,84.43 85.50,85.70 86.20,86.19 86.90,87.43 87.60,87.91 88.30,87.51 89.00,87.60 89.70,88.78 90.40,89.75 91.10,90.73 91.80,91.85 92.50,92.64 93.20,91.60 93.90,93.84 94.60,94.45 95.00,94.93 95.30,94.49 96.00,94.23 96.70,95.72 97.40,95.97 98.10,96.06 98.80,96.85 99.50,96.05 100.20,95.87 100.90,97.14 101.60,97.96 102.30,97.10 103.00,98.54 103.70,99.24 104.40,98.18 105.00,99.21 105.10,99.40 105.80,99.28 106.50,99.06 107.20,99.46 107.90,100.75 108.60,101.13 109.30,100.77 110.00,100.33 110.70,102.07 111.40,102.30 112.10,101.52 112.80,102.52 113.50,103.46 114.20,103.73 114.90,103.31 115.60,103.52 116.30,104.05 117.00,103.55 117.70,103.86 118.00,103.96 118.40,97.94 118.60,93.73 119.10,89.68 119.50,85.80 119.80,84.63 120.50,80.63 121.00,78.09 121.20,80.09 121.90,79.20 122.60,79.01 123.30,80.42 124.00,81.07 124.70,80.16 125.40,81.39 126.00,81.19 126.10,81.62 126.80,81.23 127.50,81.85 128.20,84.36 128.90,84.71 129.60,84.55 130.30,85.31 131.00,85.30 131.70,86.94 132.40,86.83 133.10,88.47 133.80,88.71 134.50,89.41 135.00,90.13 135.20,88.81 135.90,88.71 136.60,89.38 137.30,89.68 138.00,89.83 138.70,90.10 139.40,91.46 140.10,92.42 140.80,91.94 141.50,93.26 142.20,93.52 142.90,92.17 143.60,93.58 144.30,93.52 145.00,93.31 145.70,95.33 146.40,94.26 147.10,95.22 147.80,95.71 148.50,96.68 149.20,96.45 149.90,96.24 150.00,96.40 150.60,96.02 151.30,97.86 152.00,98.15 152.70,96.84 153.40,96.71 154.10,97.38 154.80,97.80 155.50,99.14 156.20,99.38 156.90,99.47 157.60,98.13 158.30,99.84 159.00,99.92 159.70,100.03 160.40,100.94 161.10,99.31 161.80,99.72 162.50,101.18 163.20,101.78 163.90,101.49 164.60,100.96 165.00,101.68 165.30,102.10 166.00,100.99 166.70,101.62 167.40,101.68 168.10,101.61 168.80,102.52 169.50,102.09 170.20,102.42 170.90,102.43 171.60,103.69 172.30,102.55 173.00,104.16 173.70,103.31 174.40,103.18 175.10,105.16 175.80,103.94 176.50,105.56 177.20,105.62 177.90,105.86 178.60,104.56 179.30,105.37 180.00,104.86 180.70,106.72 181.40,106.74 182.10,106.51 182.80,106.35 183.00,106.18" fill="none" stroke="#2b6347" stroke-width="1.45" stroke-linejoin="round"/>
</g>
<line x1="186.3" y1="44.8" x2="195.5" y2="44.8" stroke="#7f93bd" stroke-width="1.6"/>
<text x="198.4" y="47.2" font-size="7.4" text-anchor="start" textLength="16.5" lengthAdjust="spacingAndGlyphs" >Mock</text>
<line x1="186.3" y1="55.9" x2="195.5" y2="55.9" stroke="#c4667a" stroke-width="1.6"/>
<text x="198.4" y="58.2" font-size="7.4" text-anchor="start" textLength="27.5" lengthAdjust="spacingAndGlyphs" >HGAL KO</text>
<line x1="186.3" y1="66.8" x2="195.5" y2="66.8" stroke="#a5cf86" stroke-width="1.6"/>
<text x="198.4" y="69" font-size="7.4" text-anchor="start" textLength="25.6" lengthAdjust="spacingAndGlyphs" >Grb2 KO</text>
<line x1="186.3" y1="77.4" x2="195.5" y2="77.4" stroke="#9a7aa4" stroke-width="1.6"/>
<text x="198.4" y="79.5" font-size="7.4" text-anchor="start" textLength="49.8" lengthAdjust="spacingAndGlyphs" >Grb2 &amp; HGAL KO</text>
<line x1="186.3" y1="93.5" x2="195.5" y2="93.5" stroke="#9ccbee" stroke-width="1.6"/>
<text x="198.4" y="91.6" font-size="7.4" text-anchor="start" textLength="33.6" lengthAdjust="spacingAndGlyphs" >HGAL KO +</text>
<text x="198.4" y="98.9" font-size="7.4" text-anchor="start" textLength="31.8" lengthAdjust="spacingAndGlyphs" >HGAL-GFP</text>
<line x1="186.3" y1="112.8" x2="195.5" y2="112.8" stroke="#f1c27e" stroke-width="1.6"/>
<text x="198.4" y="109.9" font-size="7.4" text-anchor="start" textLength="33.6" lengthAdjust="spacingAndGlyphs" >HGAL KO +</text>
<text x="198.4" y="118.5" font-size="7.4" text-anchor="start" textLength="47.5" lengthAdjust="spacingAndGlyphs" >HGAL(FEN)-GFP</text>
<line x1="186.3" y1="132.4" x2="195.5" y2="132.4" stroke="#c3b8df" stroke-width="1.6"/>
<text x="198.4" y="130.1" font-size="7.4" text-anchor="start" textLength="53.9" lengthAdjust="spacingAndGlyphs" >HGAL &amp; Grb2 KO +</text>
<text x="198.4" y="137.8" font-size="7.4" text-anchor="start" textLength="31.8" lengthAdjust="spacingAndGlyphs" >HGAL-GFP</text>
<line x1="186.3" y1="152.2" x2="195.5" y2="152.2" stroke="#6f9a82" stroke-width="1.6"/>
<text x="198.4" y="149.3" font-size="7.4" text-anchor="start" textLength="53.9" lengthAdjust="spacingAndGlyphs" >HGAL &amp; Grb2 KO +</text>
<text x="198.4" y="157.4" font-size="7.4" text-anchor="start" textLength="47.5" lengthAdjust="spacingAndGlyphs" >HGAL(FEN)-GFP</text>
<text x="273.9" y="16.5" font-size="11.5" text-anchor="start" textLength="6.5" lengthAdjust="spacingAndGlyphs" >C</text>
<line x1="310" y1="20.0" x2="447.8" y2="20.0" stroke="#111" stroke-width="1.1"/>
<path d="M445.8,17.0 L451.8,20.0 L445.8,23.0 Z" fill="#111"/>
<text x="361.0" y="17.1" font-size="7.4" text-anchor="start" textLength="36.5" lengthAdjust="spacingAndGlyphs" >1 mM EGTA</text>
<text x="296.2" y="30" font-size="7.4" text-anchor="start" textLength="43.3" lengthAdjust="spacingAndGlyphs" >α-IgM F(ab′)2</text>
<text x="369.3" y="29.8" font-size="7.4" text-anchor="start" textLength="31.7" lengthAdjust="spacingAndGlyphs" >1mM CaCl</text>
<text x="401.6" y="31.8" font-size="5" text-anchor="start" >2</text>
<line x1="317.5" y1="32.5" x2="317.5" y2="41.8" stroke="#111" stroke-width="1.05"/>
<path d="M314.9,39.199999999999996 L320.1,39.199999999999996 L317.5,44.8 Z" fill="#111"/>
<line x1="387.6" y1="32.5" x2="387.6" y2="41.8" stroke="#111" stroke-width="1.05"/>
<path d="M385.0,39.199999999999996 L390.20000000000005,39.199999999999996 L387.6,44.8 Z" fill="#111"/>
<rect x="311" y="45.2" width="142.3" height="100.3" fill="none" stroke="#1a1a1a" stroke-width="1.25"/>
<line x1="307.5" y1="45.20" x2="311" y2="45.20" stroke="#111" stroke-width="1"/>
<text x="304.5" y="47.7" font-size="7.4" text-anchor="end" textLength="14.81" lengthAdjust="spacingAndGlyphs" >1600</text>
<line x1="307.5" y1="57.74" x2="311" y2="57.74" stroke="#111" stroke-width="1"/>
<text x="304.5" y="60.24" font-size="7.4" text-anchor="end" textLength="14.81" lengthAdjust="spacingAndGlyphs" >1400</text>
<line x1="307.5" y1="70.28" x2="311" y2="70.28" stroke="#111" stroke-width="1"/>
<text x="304.5" y="72.78" font-size="7.4" text-anchor="end" textLength="14.81" lengthAdjust="spacingAndGlyphs" >1200</text>
<line x1="307.5" y1="82.82" x2="311" y2="82.82" stroke="#111" stroke-width="1"/>
<text x="304.5" y="85.32" font-size="7.4" text-anchor="end" textLength="14.81" lengthAdjust="spacingAndGlyphs" >1000</text>
<line x1="307.5" y1="95.36" x2="311" y2="95.36" stroke="#111" stroke-width="1"/>
<text x="304.5" y="97.86" font-size="7.4" text-anchor="end" textLength="11.11" lengthAdjust="spacingAndGlyphs" >800</text>
<line x1="307.5" y1="107.90" x2="311" y2="107.90" stroke="#111" stroke-width="1"/>
<text x="304.5" y="110.4" font-size="7.4" text-anchor="end" textLength="11.11" lengthAdjust="spacingAndGlyphs" >600</text>
<line x1="307.5" y1="120.44" x2="311" y2="120.44" stroke="#111" stroke-width="1"/>
<text x="304.5" y="122.94" font-size="7.4" text-anchor="end" textLength="11.11" lengthAdjust="spacingAndGlyphs" >400</text>
<line x1="307.5" y1="132.98" x2="311" y2="132.98" stroke="#111" stroke-width="1"/>
<text x="304.5" y="135.48000000000002" font-size="7.4" text-anchor="end" textLength="11.11" lengthAdjust="spacingAndGlyphs" >200</text>
<line x1="307.5" y1="145.52" x2="311" y2="145.52" stroke="#111" stroke-width="1"/>
<text x="304.5" y="148.01999999999998" font-size="7.4" text-anchor="end" textLength="3.7" lengthAdjust="spacingAndGlyphs" >0</text>
<line x1="311.00" y1="145.5" x2="311.00" y2="148.7" stroke="#111" stroke-width="1"/>
<line x1="321.52" y1="145.5" x2="321.52" y2="148.7" stroke="#111" stroke-width="1"/>
<line x1="332.04" y1="145.5" x2="332.04" y2="148.7" stroke="#111" stroke-width="1"/>
<line x1="342.56" y1="145.5" x2="342.56" y2="148.7" stroke="#111" stroke-width="1"/>
<line x1="353.08" y1="145.5" x2="353.08" y2="148.7" stroke="#111" stroke-width="1"/>
<line x1="363.60" y1="145.5" x2="363.60" y2="148.7" stroke="#111" stroke-width="1"/>
<line x1="374.12" y1="145.5" x2="374.12" y2="148.7" stroke="#111" stroke-width="1"/>
<line x1="384.64" y1="145.5" x2="384.64" y2="148.7" stroke="#111" stroke-width="1"/>
<line x1="395.16" y1="145.5" x2="395.16" y2="148.7" stroke="#111" stroke-width="1"/>
<line x1="405.68" y1="145.5" x2="405.68" y2="148.7" stroke="#111" stroke-width="1"/>
<line x1="416.20" y1="145.5" x2="416.20" y2="148.7" stroke="#111" stroke-width="1"/>
<line x1="426.72" y1="145.5" x2="426.72" y2="148.7" stroke="#111" stroke-width="1"/>
<line x1="437.24" y1="145.5" x2="437.24" y2="148.7" stroke="#111" stroke-width="1"/>
<line x1="447.76" y1="145.5" x2="447.76" y2="148.7" stroke="#111" stroke-width="1"/>
<text x="311.7" y="158" font-size="7.4" text-anchor="middle" textLength="3.91" lengthAdjust="spacingAndGlyphs" >0</text>
<text x="343" y="158" font-size="7.4" text-anchor="middle" textLength="11.73" lengthAdjust="spacingAndGlyphs" >300</text>
<text x="374.2" y="158" font-size="7.4" text-anchor="middle" textLength="11.73" lengthAdjust="spacingAndGlyphs" >600</text>
<text x="406.2" y="158" font-size="7.4" text-anchor="middle" textLength="11.73" lengthAdjust="spacingAndGlyphs" >900</text>
<text x="436.9" y="158" font-size="7.4" text-anchor="middle" textLength="13.29" lengthAdjust="spacingAndGlyphs" >1.2k</text>
<text x="363.8" y="170.6" font-size="9.2" text-anchor="start" textLength="38.1" lengthAdjust="spacingAndGlyphs" >Time (sec)</text>
<text x="0" y="0" font-size="9.2" text-anchor="middle" textLength="59.5" lengthAdjust="spacingAndGlyphs" transform="translate(283.3,95.3) rotate(-90)">Fluo-4 AM (AU)</text>
<text x="420" y="54.5" font-size="7.4" text-anchor="start" textLength="19" lengthAdjust="spacingAndGlyphs" >U2932</text>
<g clip-path="url(#clipC)">
<polyline points="311.00,127.58 311.70,126.96 312.40,127.23 313.10,126.36 313.80,126.50 314.50,126.20 315.20,127.38 315.90,127.10 316.60,126.36 317.30,127.67 318.00,126.58 318.00,126.84 318.70,125.21 319.40,124.25 320.10,124.11 320.80,122.04 321.00,121.40 321.50,120.82 322.20,118.87 322.90,118.29 323.60,115.24 324.00,115.86 324.30,113.85 325.00,114.54 325.70,113.31 326.40,111.67 327.10,111.33 327.50,110.52 327.80,110.72 328.50,111.20 329.20,112.08 329.90,113.80 330.00,113.90 330.60,114.76 331.30,114.43 332.00,115.94 332.70,118.19 333.40,117.84 334.10,120.21 334.40,119.93 334.80,121.45 335.50,120.23 336.20,122.17 336.90,121.84 337.60,121.99 338.30,122.25 339.00,124.26 339.60,124.15 339.70,123.57 340.40,124.25 341.10,125.34 341.80,124.33 342.50,125.20 343.20,124.65 343.90,124.96 344.60,126.25 345.30,126.38 346.00,125.69 346.50,125.64 346.70,125.66 347.40,126.62 348.10,126.43 348.80,126.05 349.50,125.95 350.20,126.70 350.90,126.89 351.60,127.10 352.30,126.70 353.00,126.04 353.70,125.81 354.40,127.03 355.10,126.46 355.80,127.05 356.50,125.86 357.20,127.24 357.90,126.41 358.60,127.34 359.30,127.40 360.00,126.75 360.70,125.90 361.40,127.53 362.10,126.77 362.80,127.50 363.50,126.43 364.20,126.30 364.90,127.48 365.60,126.67 366.30,126.32 367.00,126.71 367.70,127.13 368.40,126.09 369.10,127.03 369.80,126.92 370.50,127.06 371.20,126.37 371.90,127.46 372.60,127.66 373.30,127.77 374.00,126.81 374.70,127.53 375.40,126.95 376.10,127.64 376.80,126.41 377.50,127.89 378.20,128.06 378.90,127.25 379.60,127.30 380.30,127.35 381.00,127.38 381.70,126.47 382.40,128.19 383.10,126.87 383.80,126.82 384.50,126.69 385.20,126.98 385.90,128.02 386.60,126.62 387.30,126.76 388.00,127.86 388.00,126.95 388.70,122.78 389.00,122.18 389.40,121.64 390.10,120.67 390.80,120.11 391.00,118.79 391.50,120.04 392.20,119.59 392.90,118.21 393.00,118.32 393.60,119.16 394.30,119.37 395.00,119.17 395.70,119.09 396.40,119.80 397.10,119.52 397.80,120.54 398.50,121.22 399.20,120.14 399.90,121.10 400.00,121.44 400.60,120.52 401.30,121.85 402.00,122.19 402.70,121.34 403.40,121.54 404.10,122.43 404.80,122.01 405.50,121.91 406.20,123.03 406.90,122.88 407.60,122.23 408.30,122.19 409.00,122.50 409.70,122.82 410.40,123.95 411.10,123.77 411.80,124.10 412.50,124.07 413.20,124.27 413.90,122.98 414.60,123.95 415.00,124.82 415.30,124.79 416.00,123.58 416.70,123.90 417.40,124.30 418.10,123.84 418.80,124.16 419.50,123.34 420.20,124.02 420.90,124.16 421.60,123.31 422.30,123.54 423.00,125.06 423.70,124.73 424.40,125.03 425.10,124.51 425.80,124.84 426.50,124.99 427.20,125.01 427.90,123.50 428.60,124.61 429.30,123.95 430.00,124.72 430.70,124.01 431.40,124.51 432.10,125.21 432.80,124.69 433.50,124.04 434.20,124.54 434.90,124.40 435.60,125.35 436.30,124.18 437.00,124.23 437.70,124.86 438.40,123.93 439.10,124.80 439.80,125.47 440.50,124.70 441.20,124.27 441.90,124.65 442.60,124.79 443.30,124.11 444.00,124.09 444.70,124.12 445.40,124.43 446.10,124.65 446.80,124.46 447.50,124.39 448.20,124.13 448.90,124.98 449.60,125.52 450.30,125.13 451.00,125.07 451.70,125.24 452.40,124.45 453.00,125.38" fill="none" stroke="#395a98" stroke-width="1.45" stroke-linejoin="round"/>
<polyline points="311.00,125.43 311.70,125.59 312.40,125.70 313.10,125.44 313.80,125.16 314.50,125.04 315.20,125.00 315.90,125.52 316.60,125.29 317.30,125.65 318.00,124.62 318.00,125.23 318.70,123.70 319.40,120.13 320.10,118.25 320.80,115.68 321.00,114.61 321.50,114.04 322.20,110.23 322.90,108.52 323.60,104.85 324.00,103.22 324.30,104.15 325.00,102.15 325.70,100.25 326.40,99.62 326.70,99.19 327.10,100.10 327.80,99.64 328.50,100.51 328.50,101.83 329.20,102.90 329.90,103.32 330.60,105.12 331.30,106.62 332.00,108.67 332.70,110.04 333.40,111.93 334.10,113.35 334.40,113.43 334.80,114.30 335.50,115.13 336.20,115.98 336.90,116.29 337.60,117.67 338.30,118.35 339.00,119.54 339.60,118.83 339.70,120.23 340.40,119.11 341.10,120.91 341.80,121.03 342.50,121.30 343.20,122.58 343.90,122.31 344.60,122.47 345.30,123.56 346.00,124.16 346.50,123.99 346.70,123.61 347.40,123.83 348.10,123.93 348.80,124.49 349.50,123.81 350.20,124.07 350.90,124.45 351.60,124.23 352.30,124.21 353.00,125.14 353.70,125.34 354.40,124.79 355.10,124.78 355.80,124.40 356.50,124.71 357.20,124.51 357.90,125.37 358.60,125.47 359.30,124.67 360.00,126.26 360.00,125.18 360.70,126.16 361.40,126.18 362.10,126.44 362.80,125.12 363.50,125.56 364.20,126.46 364.90,124.88 365.60,124.99 366.30,125.95 367.00,125.87 367.70,126.67 368.40,126.44 369.10,126.06 369.80,126.92 370.50,126.09 371.20,126.13 371.90,126.47 372.60,125.98 373.30,125.96 374.00,126.42 374.70,126.02 375.40,127.13 376.10,126.68 376.80,126.45 377.50,125.72 378.20,126.25 378.90,126.33 379.60,126.66 380.30,126.72 381.00,127.31 381.70,127.50 382.40,126.68 383.10,126.63 383.80,127.00 384.50,127.71 385.20,126.57 385.90,126.94 386.60,127.49 387.30,126.37 388.00,126.67 388.00,127.86 388.70,117.09 389.00,112.02 389.40,109.17 390.10,106.84 390.50,104.34 390.80,104.16 391.50,103.48 391.50,103.30 392.20,103.11 392.90,103.29 393.00,103.62 393.60,104.62 394.30,105.31 395.00,105.44 395.70,106.13 396.40,107.63 397.10,108.29 397.80,108.54 398.50,110.39 399.20,110.45 399.90,110.08 400.00,110.84 400.60,111.82 401.30,111.30 402.00,112.34 402.70,111.46 403.40,112.35 404.10,113.67 404.80,113.56 405.50,114.05 406.20,113.55 406.90,114.45 407.60,114.90 408.30,114.73 409.00,115.76 409.70,115.91 410.00,116.89 410.40,116.20 411.10,116.02 411.80,115.62 412.50,115.80 413.20,117.00 413.90,115.94 414.60,116.05 415.30,116.29 416.00,117.04 416.70,117.70 417.40,117.44 418.10,117.90 418.80,116.68 419.50,116.71 420.20,118.19 420.90,117.50 421.60,118.32 422.30,117.79 423.00,117.57 423.70,117.86 424.40,117.68 425.00,119.23 425.10,118.65 425.80,118.23 426.50,118.40 427.20,118.29 427.90,117.69 428.60,119.19 429.30,118.63 430.00,119.31 430.70,118.37 431.40,118.69 432.10,118.02 432.80,117.65 433.50,119.25 434.20,119.11 434.90,118.13 435.60,119.18 436.30,119.03 437.00,118.10 437.70,118.64 438.40,119.28 439.10,118.44 439.80,119.26 440.50,117.98 441.20,118.24 441.90,118.83 442.60,117.94 443.30,118.09 444.00,119.11 444.70,118.40 445.40,118.95 446.10,117.96 446.80,117.83 447.50,118.16 448.20,117.85 448.90,119.26 449.60,118.04 450.30,118.52 451.00,117.71 451.70,118.47 452.40,118.20 453.00,118.23" fill="none" stroke="#6aa83e" stroke-width="1.45" stroke-linejoin="round"/>
<polyline points="311.00,123.22 311.70,123.32 312.40,124.59 313.10,123.73 313.80,123.54 314.50,123.44 315.20,123.61 315.90,123.53 316.60,123.16 317.30,124.30 318.00,123.71 318.00,123.38 318.70,119.47 319.40,113.47 320.00,109.59 320.10,109.50 320.80,100.53 321.50,93.40 322.00,88.61 322.20,86.82 322.90,79.59 323.50,74.74 323.60,75.28 324.30,73.82 324.50,74.63 325.00,74.01 325.70,76.37 326.00,76.01 326.40,76.84 327.10,79.58 327.80,81.34 328.50,84.70 329.00,85.57 329.20,87.29 329.90,88.74 330.60,90.35 331.30,92.15 332.00,94.81 332.70,96.10 333.40,99.30 334.10,99.96 334.40,101.52 334.80,102.36 335.50,103.24 336.20,105.52 336.90,106.20 337.60,108.06 338.30,109.27 339.00,110.18 339.60,111.50 339.70,111.05 340.40,111.92 341.10,113.83 341.80,113.58 342.50,114.89 343.20,114.60 343.90,116.11 344.60,116.45 345.30,117.40 346.00,117.73 346.50,117.82 346.70,118.36 347.40,118.57 348.10,118.76 348.80,120.18 349.50,119.76 350.20,120.34 350.90,121.61 351.60,121.73 352.30,122.29 353.00,122.62 353.70,121.66 354.40,122.29 355.00,122.15 355.10,123.34 355.80,123.40 356.50,122.93 357.20,123.14 357.90,123.67 358.60,123.84 359.30,123.12 360.00,124.29 360.70,123.49 361.40,124.09 362.10,123.37 362.80,123.35 363.50,124.88 364.20,124.65 364.90,124.70 365.60,123.59 366.30,123.68 367.00,123.99 367.70,124.15 368.40,124.43 369.10,124.67 369.80,124.14 370.00,124.66 370.50,125.28 371.20,124.49 371.90,125.72 372.60,125.27 373.30,125.57 374.00,124.78 374.70,125.14 375.40,125.63 376.10,125.07 376.80,124.48 377.50,126.02 378.20,125.95 378.90,125.11 379.60,124.71 380.30,126.21 381.00,125.80 381.70,124.84 382.40,125.23 383.10,125.03 383.80,126.29 384.50,125.28 385.20,126.59 385.90,126.33 386.60,125.18 387.30,126.31 388.00,125.81 388.00,126.45 388.70,108.39 389.00,99.61 389.40,95.00 390.10,89.07 390.50,83.86 390.80,84.03 391.50,81.87 392.20,80.22 392.60,79.39 392.90,79.29 393.60,79.57 394.00,79.20 394.30,81.02 395.00,82.08 395.70,83.78 396.40,86.08 397.10,86.19 397.80,88.88 398.50,89.13 399.20,91.86 399.20,92.05 399.90,92.28 400.60,94.00 401.30,95.97 402.00,96.58 402.70,97.61 403.40,98.29 404.10,99.16 404.80,100.90 405.00,101.34 405.50,101.40 406.20,102.20 406.90,102.49 407.60,104.13 408.30,104.67 409.00,104.49 409.70,105.11 410.40,106.21 411.10,106.69 411.80,108.18 412.50,107.73 412.50,107.64 413.20,108.97 413.90,107.92 414.60,108.95 415.30,108.82 416.00,109.97 416.70,109.77 417.40,110.43 418.10,109.64 418.80,110.82 419.50,110.98 420.00,110.93 420.20,111.51 420.90,111.73 421.60,110.55 422.30,110.97 423.00,111.20 423.70,111.03 424.40,110.87 425.10,111.37 425.80,111.32 426.50,112.34 427.20,111.99 427.90,111.49 428.60,111.97 429.30,112.34 430.00,112.25 430.00,111.90 430.70,111.74 431.40,111.65 432.10,113.43 432.80,113.01 433.50,111.83 434.20,112.98 434.90,113.47 435.60,112.74 436.30,111.93 437.00,112.63 437.70,112.55 438.40,112.12 439.10,112.78 439.80,111.83 440.50,113.48 441.20,113.00 441.90,112.99 442.60,113.56 443.30,113.06 444.00,112.36 444.70,112.36 445.40,112.18 446.10,112.00 446.80,113.36 447.50,113.49 448.20,112.53 448.90,112.35 449.60,113.17 450.30,113.56 451.00,113.72 451.70,112.37 452.40,113.50 453.00,113.59" fill="none" stroke="#9c1f3b" stroke-width="1.45" stroke-linejoin="round"/>
<polyline points="311.00,122.94 311.70,122.19 312.40,121.93 313.10,123.09 313.80,122.18 314.50,122.26 315.20,122.59 315.90,122.26 316.60,123.10 317.30,122.03 318.00,121.67 318.00,122.62 318.70,116.61 319.40,110.83 320.00,105.37 320.10,104.68 320.80,97.40 321.50,89.24 322.00,84.00 322.20,81.65 322.90,75.84 323.50,71.15 323.60,70.01 324.30,69.47 325.00,66.89 325.00,67.40 325.70,68.52 326.40,67.11 327.00,67.17 327.10,68.39 327.80,71.44 328.50,75.90 329.20,78.11 329.20,79.61 329.90,81.93 330.60,84.09 331.30,85.73 332.00,87.76 332.70,90.73 333.40,92.76 334.10,94.88 334.40,95.71 334.80,96.81 335.50,98.84 336.20,100.74 336.90,102.50 337.60,102.78 338.30,104.63 339.00,106.51 339.60,108.11 339.70,107.86 340.40,108.50 341.10,109.21 341.80,110.55 342.50,111.71 343.20,113.54 343.90,114.34 344.60,115.18 345.30,116.29 346.00,117.18 346.50,117.22 346.70,117.66 347.40,116.65 348.10,118.11 348.80,118.33 349.50,118.12 350.20,118.96 350.90,119.99 351.60,119.49 352.30,120.13 353.00,119.85 353.70,120.28 354.40,121.60 355.00,120.35 355.10,120.68 355.80,121.81 356.50,121.66 357.20,121.26 357.90,122.55 358.60,122.29 359.30,122.92 360.00,122.88 360.70,123.34 361.40,123.66 362.10,123.62 362.80,123.37 363.50,123.74 364.00,125.20 364.20,124.61 364.90,123.92 365.60,125.36 366.30,124.36 367.00,124.16 367.70,125.04 368.40,124.63 369.10,125.15 369.80,125.36 370.50,124.86 371.20,125.57 371.90,124.84 372.60,125.65 373.30,125.88 374.00,125.05 374.70,125.73 375.40,125.22 376.10,125.97 376.80,126.83 377.00,126.29 377.50,126.61 378.20,126.73 378.90,125.61 379.60,127.23 380.30,126.78 381.00,125.70 381.70,127.05 382.40,126.30 383.10,125.94 383.80,127.40 384.50,126.72 385.20,127.14 385.90,126.03 386.60,127.22 387.30,125.97 388.00,126.33 388.00,126.57 388.60,99.13 388.70,98.17 389.40,83.48 390.00,71.64 390.10,71.57 390.80,65.47 391.50,60.70 391.50,60.22 392.20,60.14 392.90,59.06 393.50,59.25 393.60,59.24 394.30,58.50 395.00,60.07 395.50,59.71 395.70,61.12 396.40,63.24 397.10,65.78 397.80,66.78 398.50,69.50 399.20,72.43 399.20,72.81 399.90,73.85 400.60,74.07 401.30,76.53 402.00,77.07 402.70,79.33 403.40,81.24 404.10,81.44 404.80,84.35 405.00,84.32 405.50,84.16 406.20,84.89 406.90,86.18 407.60,87.73 408.30,88.11 409.00,88.10 409.70,88.78 410.40,89.78 411.10,91.86 411.80,91.59 412.50,93.10 412.50,92.62 413.20,93.72 413.90,93.55 414.60,93.51 415.30,95.20 416.00,94.98 416.70,95.63 417.40,96.23 418.00,96.81 418.10,95.16 418.80,95.98 419.50,95.87 420.20,96.74 420.90,97.64 421.60,97.74 422.30,96.60 423.00,97.09 423.70,98.47 424.00,98.32 424.40,97.91 425.10,98.23 425.80,97.83 426.50,99.25 427.20,98.61 427.90,99.65 428.60,99.35 429.30,98.56 430.00,99.19 430.00,98.99 430.70,100.21 431.40,99.66 432.10,98.68 432.80,98.91 433.50,99.25 434.20,99.44 434.90,99.64 435.60,99.30 436.30,99.24 437.00,98.61 437.70,99.64 438.40,99.20 439.10,98.64 439.80,99.43 440.50,100.38 441.20,98.68 441.90,98.86 442.60,99.81 443.30,99.09 444.00,99.09 444.70,99.50 445.40,99.07 446.10,99.62 446.80,99.55 447.50,100.32 448.20,100.39 448.90,98.66 449.60,99.61 450.30,99.99 451.00,100.17 451.70,99.99 452.40,99.74 453.00,99.74" fill="none" stroke="#663372" stroke-width="1.45" stroke-linejoin="round"/>
</g>
<line x1="456.2" y1="49.1" x2="462.8" y2="49.1" stroke="#7f93bd" stroke-width="1.6"/>
<text x="465.8" y="51.5" font-size="7.4" text-anchor="start" textLength="16" lengthAdjust="spacingAndGlyphs" >Mock</text>
<line x1="456.2" y1="60.3" x2="462.8" y2="60.3" stroke="#a5cf86" stroke-width="1.6"/>
<text x="465.8" y="62.6" font-size="7.4" text-anchor="start" textLength="16" lengthAdjust="spacingAndGlyphs" >HGAL</text>
<line x1="456.2" y1="70.8" x2="462.8" y2="70.8" stroke="#c4667a" stroke-width="1.6"/>
<text x="465.8" y="73.4" font-size="7.4" text-anchor="start" textLength="41.9" lengthAdjust="spacingAndGlyphs" >Grb2 (W193K)</text>
<line x1="456.2" y1="86" x2="462.8" y2="86" stroke="#9a7aa4" stroke-width="1.6"/>
<text x="465.8" y="84.2" font-size="7.4" text-anchor="start" textLength="21.1" lengthAdjust="spacingAndGlyphs" >HGAL+</text>
<text x="465.8" y="93.1" font-size="7.4" text-anchor="start" textLength="41.9" lengthAdjust="spacingAndGlyphs" >Grb2 (W193K)</text>
<text x="6.9" y="197.4" font-size="11.5" text-anchor="start" textLength="6.1" lengthAdjust="spacingAndGlyphs" >B</text>
<text x="0" y="0" font-size="8" textLength="16" lengthAdjust="spacingAndGlyphs" transform="translate(65.6,283.6) rotate(-90)">Mock</text>
<text x="0" y="0" font-size="8" textLength="25" lengthAdjust="spacingAndGlyphs" transform="translate(79.39999999999999,283.6) rotate(-90)">Grb2 KO</text>
<text x="0" y="0" font-size="8" textLength="27.6" lengthAdjust="spacingAndGlyphs" transform="translate(92.89999999999999,283.6) rotate(-90)">HGAL KO</text>
<text x="0" y="0" font-size="8" textLength="50" lengthAdjust="spacingAndGlyphs" transform="translate(106.5,283.6) rotate(-90)">Grb2 &amp; HGAL KO</text>
<text x="0" y="0" font-size="8" textLength="52" lengthAdjust="spacingAndGlyphs" transform="translate(120.0,283.6) rotate(-90)">HGAL KO + HGAL</text>
<text x="0" y="0" font-size="8" textLength="69" lengthAdjust="spacingAndGlyphs" transform="translate(133.60000000000002,283.6) rotate(-90)">HGAL KO + HGAL(FEN)</text>
<text x="0" y="0" font-size="8" textLength="70" lengthAdjust="spacingAndGlyphs" transform="translate(147.60000000000002,283.6) rotate(-90)">HGAL&amp;Grb2 KO +HGAL</text>
<text x="0" y="0" font-size="8" textLength="85" lengthAdjust="spacingAndGlyphs" transform="translate(161.20000000000002,283.6) rotate(-90)">HGAL&amp;Grb2 KO+HGAL(FEN)</text>
<rect x="53.1" y="286.8" width="114.50" height="15.90" rx="0.6" fill="#f7f7f7" stroke="#3c3c3c" stroke-width="1.3"/>
<rect x="70.00" y="288.00" width="13.00" height="6.00" fill="#555" fill-opacity="0.08" filter="url(#bl2)"/>
<rect x="57.00" y="293.10" width="11.30" height="2.50" rx="1.41" ry="1.25" fill="#141414" fill-opacity="0.85" filter="url(#bl)"/>
<rect x="69.80" y="292.90" width="13.20" height="3.40" rx="1.65" ry="1.70" fill="#141414" fill-opacity="0.95" filter="url(#bl)"/>
<rect x="84.80" y="292.90" width="10.50" height="2.50" rx="1.31" ry="1.25" fill="#141414" fill-opacity="0.8" filter="url(#bl)"/>
<rect x="98.50" y="293.20" width="9.70" height="2.10" rx="1.21" ry="1.05" fill="#141414" fill-opacity="0.65" filter="url(#bl)"/>
<rect x="111.80" y="292.90" width="10.60" height="2.60" rx="1.33" ry="1.30" fill="#141414" fill-opacity="0.85" filter="url(#bl)"/>
<rect x="125.20" y="292.90" width="10.50" height="2.50" rx="1.31" ry="1.25" fill="#141414" fill-opacity="0.85" filter="url(#bl)"/>
<rect x="138.10" y="292.80" width="11.30" height="2.60" rx="1.41" ry="1.30" fill="#141414" fill-opacity="0.85" filter="url(#bl)"/>
<rect x="151.00" y="292.30" width="12.20" height="2.90" rx="1.52" ry="1.45" fill="#141414" fill-opacity="0.9" filter="url(#bl)"/>
<text x="11.1" y="297" font-size="8.1" text-anchor="start" textLength="38.8" lengthAdjust="spacingAndGlyphs" >pSyk (pY352)</text>
<text x="59.24" y="309.6" font-size="6.3" text-anchor="start" textLength="8.32" lengthAdjust="spacingAndGlyphs" class="n">1.0</text>
<text x="72.64" y="309.6" font-size="6.3" text-anchor="start" textLength="8.32" lengthAdjust="spacingAndGlyphs" class="n">1.5</text>
<text x="86.24" y="309.6" font-size="6.3" text-anchor="start" textLength="8.32" lengthAdjust="spacingAndGlyphs" class="n">0.5</text>
<text x="98.18" y="309.6" font-size="6.3" text-anchor="start" textLength="11.65" lengthAdjust="spacingAndGlyphs" class="n">0.65</text>
<text x="113.04" y="309.6" font-size="6.3" text-anchor="start" textLength="8.32" lengthAdjust="spacingAndGlyphs" class="n">0.7</text>
<text x="126.24" y="309.6" font-size="6.3" text-anchor="start" textLength="8.32" lengthAdjust="spacingAndGlyphs" class="n">0.8</text>
<text x="138.18" y="309.6" font-size="6.3" text-anchor="start" textLength="11.65" lengthAdjust="spacingAndGlyphs" class="n">0.85</text>
<text x="151.38" y="309.6" font-size="6.3" text-anchor="start" textLength="11.65" lengthAdjust="spacingAndGlyphs" class="n">0.85</text>
<rect x="53.1" y="311.8" width="114.50" height="15.20" rx="0.6" fill="#f2f2f2" stroke="#3c3c3c" stroke-width="1.3"/>
<rect x="56.60" y="313.00" width="12.00" height="13.50" fill="#555" fill-opacity="0.22" filter="url(#bl2)"/>
<rect x="70.40" y="313.00" width="12.00" height="13.50" fill="#555" fill-opacity="0.22" filter="url(#bl2)"/>
<rect x="84.00" y="313.00" width="12.00" height="13.50" fill="#555" fill-opacity="0.22" filter="url(#bl2)"/>
<rect x="97.40" y="313.00" width="12.00" height="13.50" fill="#555" fill-opacity="0.22" filter="url(#bl2)"/>
<rect x="111.10" y="313.00" width="12.00" height="13.50" fill="#555" fill-opacity="0.22" filter="url(#bl2)"/>
<rect x="124.40" y="313.00" width="12.00" height="13.50" fill="#555" fill-opacity="0.22" filter="url(#bl2)"/>
<rect x="137.70" y="313.00" width="12.00" height="13.50" fill="#555" fill-opacity="0.22" filter="url(#bl2)"/>
<rect x="151.10" y="313.00" width="12.00" height="13.50" fill="#555" fill-opacity="0.22" filter="url(#bl2)"/>
<ellipse cx="62.60" cy="319.40" rx="6.90" ry="2.80" fill="#141414" fill-opacity="0.5" filter="url(#bl)"/>
<rect x="57.10" y="318.20" width="11.00" height="2.80" rx="1.92" ry="1.40" fill="#141414" fill-opacity="0.55" filter="url(#bl)"/>
<ellipse cx="76.40" cy="319.40" rx="6.90" ry="2.80" fill="#141414" fill-opacity="0.5" filter="url(#bl)"/>
<rect x="70.90" y="318.20" width="11.00" height="2.80" rx="1.92" ry="1.40" fill="#141414" fill-opacity="0.55" filter="url(#bl)"/>
<ellipse cx="90.00" cy="319.40" rx="6.90" ry="2.80" fill="#141414" fill-opacity="0.5" filter="url(#bl)"/>
<rect x="84.50" y="318.20" width="11.00" height="2.80" rx="1.92" ry="1.40" fill="#141414" fill-opacity="0.55" filter="url(#bl)"/>
<ellipse cx="103.40" cy="319.40" rx="6.90" ry="2.80" fill="#141414" fill-opacity="0.5" filter="url(#bl)"/>
<rect x="97.90" y="318.20" width="11.00" height="2.80" rx="1.92" ry="1.40" fill="#141414" fill-opacity="0.55" filter="url(#bl)"/>
<ellipse cx="117.10" cy="319.40" rx="6.90" ry="2.80" fill="#141414" fill-opacity="0.5" filter="url(#bl)"/>
<rect x="111.60" y="318.20" width="11.00" height="2.80" rx="1.92" ry="1.40" fill="#141414" fill-opacity="0.55" filter="url(#bl)"/>
<ellipse cx="130.40" cy="319.40" rx="6.90" ry="2.80" fill="#141414" fill-opacity="0.5" filter="url(#bl)"/>
<rect x="124.90" y="318.20" width="11.00" height="2.80" rx="1.92" ry="1.40" fill="#141414" fill-opacity="0.55" filter="url(#bl)"/>
<ellipse cx="143.70" cy="319.40" rx="6.90" ry="2.80" fill="#141414" fill-opacity="0.5" filter="url(#bl)"/>
<rect x="138.20" y="318.20" width="11.00" height="2.80" rx="1.92" ry="1.40" fill="#141414" fill-opacity="0.55" filter="url(#bl)"/>
<ellipse cx="157.10" cy="319.40" rx="6.90" ry="2.80" fill="#141414" fill-opacity="0.5" filter="url(#bl)"/>
<rect x="151.60" y="318.20" width="11.00" height="2.80" rx="1.92" ry="1.40" fill="#141414" fill-opacity="0.55" filter="url(#bl)"/>
<text x="39.6" y="322.1" font-size="8.1" text-anchor="start" textLength="10.3" lengthAdjust="spacingAndGlyphs" >Syk</text>
<rect x="53.1" y="329.6" width="114.50" height="31.50" rx="0.6" fill="#dfdfdf" stroke="#3c3c3c" stroke-width="1.3"/>
<rect x="110.80" y="333.60" width="14.20" height="1.80" rx="1.07" ry="0.90" fill="#141414" fill-opacity="0.75" filter="url(#bl)"/>
<rect x="124.00" y="333.20" width="14.00" height="2.00" rx="1.05" ry="1.00" fill="#141414" fill-opacity="0.85" filter="url(#bl)"/>
<rect x="137.00" y="331.60" width="14.50" height="3.40" rx="1.45" ry="1.70" fill="#141414" fill-opacity="1" filter="url(#bl)"/>
<rect x="151.50" y="331.00" width="13.50" height="2.60" rx="1.35" ry="1.30" fill="#141414" fill-opacity="0.9" filter="url(#bl)"/>
<rect x="138.00" y="329.50" width="14.00" height="3.50" fill="#555" fill-opacity="0.35" filter="url(#bl2)"/>
<line x1="151.8" y1="330" x2="153.3" y2="360.5" stroke="#b5b5b5" stroke-width="0.35"/>
<rect x="56.00" y="353.80" width="12.20" height="4.10" rx="3.05" ry="2.05" fill="#141414" fill-opacity="1" filter="url(#bl)"/>
<rect x="69.60" y="352.00" width="11.20" height="6.60" rx="3.36" ry="3.30" fill="#141414" fill-opacity="1" filter="url(#bl)"/>
<ellipse cx="74.20" cy="333.80" rx="1.10" ry="0.70" fill="#141414" fill-opacity="0.7" filter="url(#bl)"/>
<text x="19.2" y="337.3" font-size="8.1" text-anchor="start" textLength="30.4" lengthAdjust="spacingAndGlyphs" >HGAL-GFP</text>
<text x="32.9" y="358.7" font-size="8.1" text-anchor="start" textLength="16.4" lengthAdjust="spacingAndGlyphs" >HGAL</text>
<rect x="53.1" y="364.2" width="114.50" height="16.20" rx="0.6" fill="#e6e6e6" stroke="#3c3c3c" stroke-width="1.3"/>
<rect x="54.80" y="368.60" width="12.20" height="6.40" rx="3.36" ry="3.20" fill="#141414" fill-opacity="1" filter="url(#bl)"/>
<rect x="82.60" y="368.60" width="12.20" height="6.40" rx="3.36" ry="3.20" fill="#141414" fill-opacity="1" filter="url(#bl)"/>
<rect x="110.80" y="368.60" width="12.60" height="6.40" rx="3.47" ry="3.20" fill="#141414" fill-opacity="1" filter="url(#bl)"/>
<rect x="124.60" y="368.60" width="11.80" height="6.40" rx="3.25" ry="3.20" fill="#141414" fill-opacity="1" filter="url(#bl)"/>
<text x="35.2" y="374.2" font-size="8.1" text-anchor="start" textLength="14.1" lengthAdjust="spacingAndGlyphs" >Grb2</text>
<rect x="53.1" y="382.8" width="114.50" height="16.60" rx="0.6" fill="#fafafa" stroke="#3c3c3c" stroke-width="1.3"/>
<rect x="56.80" y="389.80" width="11.60" height="3.00" rx="2.61" ry="1.50" fill="#141414" fill-opacity="1" filter="url(#bl)"/>
<rect x="70.60" y="389.80" width="11.60" height="3.00" rx="2.61" ry="1.50" fill="#141414" fill-opacity="1" filter="url(#bl)"/>
<rect x="84.20" y="389.80" width="11.60" height="3.00" rx="2.61" ry="1.50" fill="#141414" fill-opacity="1" filter="url(#bl)"/>
<rect x="97.60" y="389.80" width="11.60" height="3.00" rx="2.61" ry="1.50" fill="#141414" fill-opacity="1" filter="url(#bl)"/>
<rect x="111.30" y="389.80" width="11.60" height="3.00" rx="2.61" ry="1.50" fill="#141414" fill-opacity="1" filter="url(#bl)"/>
<rect x="124.60" y="389.80" width="11.60" height="3.00" rx="2.61" ry="1.50" fill="#141414" fill-opacity="1" filter="url(#bl)"/>
<rect x="137.90" y="389.80" width="11.60" height="3.00" rx="2.61" ry="1.50" fill="#141414" fill-opacity="1" filter="url(#bl)"/>
<rect x="151.30" y="389.80" width="11.60" height="3.00" rx="2.61" ry="1.50" fill="#141414" fill-opacity="1" filter="url(#bl)"/>
<text x="34.7" y="392.7" font-size="8.1" text-anchor="start" textLength="15" lengthAdjust="spacingAndGlyphs" >Actin</text>
<line x1="168.6" y1="296.5" x2="172" y2="296.5" stroke="#111" stroke-width="1"/>
<text x="174.6" y="298.9" font-size="7.4" text-anchor="start" textLength="20.3" lengthAdjust="spacingAndGlyphs" >72 kDa</text>
<line x1="168.6" y1="318.4" x2="172" y2="318.4" stroke="#111" stroke-width="1"/>
<text x="174.6" y="320.79999999999995" font-size="7.4" text-anchor="start" textLength="20.3" lengthAdjust="spacingAndGlyphs" >72 kDa</text>
<line x1="168.6" y1="339.5" x2="172" y2="339.5" stroke="#111" stroke-width="1"/>
<text x="174.6" y="341.9" font-size="7.4" text-anchor="start" textLength="20.3" lengthAdjust="spacingAndGlyphs" >50 kDa</text>
<line x1="168.6" y1="356" x2="172" y2="356" stroke="#111" stroke-width="1"/>
<text x="174.6" y="358.4" font-size="7.4" text-anchor="start" textLength="20.3" lengthAdjust="spacingAndGlyphs" >27 kDa</text>
<line x1="168.6" y1="372.6" x2="172" y2="372.6" stroke="#111" stroke-width="1"/>
<text x="174.6" y="375.0" font-size="7.4" text-anchor="start" textLength="20.3" lengthAdjust="spacingAndGlyphs" >25 kDa</text>
<text x="174.6" y="393.0" font-size="7.4" text-anchor="start" textLength="20.3" lengthAdjust="spacingAndGlyphs" >42 kDa</text>
<text x="274.2" y="197.3" font-size="11.5" text-anchor="start" textLength="7.1" lengthAdjust="spacingAndGlyphs" >D</text>
<text x="282.8" y="218.9" font-size="7.4" text-anchor="start" textLength="38" lengthAdjust="spacingAndGlyphs" >U2932 Mock</text>
<text x="330.8" y="218.9" font-size="7.4" text-anchor="middle" >+</text>
<text x="345.6" y="218.9" font-size="7.4" text-anchor="middle" >+</text>
<text x="359.6" y="218.9" font-size="7.4" text-anchor="start" textLength="3.6" lengthAdjust="spacingAndGlyphs" >−</text>
<text x="374.0" y="218.9" font-size="7.4" text-anchor="start" textLength="3.6" lengthAdjust="spacingAndGlyphs" >−</text>
<text x="389.4" y="218.9" font-size="7.4" text-anchor="middle" >+</text>
<text x="404.0" y="218.9" font-size="7.4" text-anchor="middle" >+</text>
<text x="416.4" y="218.9" font-size="7.4" text-anchor="start" textLength="3.6" lengthAdjust="spacingAndGlyphs" >−</text>
<text x="429.8" y="218.9" font-size="7.4" text-anchor="start" textLength="3.6" lengthAdjust="spacingAndGlyphs" >−</text>
<text x="282.8" y="229.6" font-size="7.4" text-anchor="start" textLength="38" lengthAdjust="spacingAndGlyphs" >U2932 HGAL</text>
<text x="329.0" y="229.6" font-size="7.4" text-anchor="start" textLength="3.6" lengthAdjust="spacingAndGlyphs" >−</text>
<text x="343.8" y="229.6" font-size="7.4" text-anchor="start" textLength="3.6" lengthAdjust="spacingAndGlyphs" >−</text>
<text x="361.4" y="229.6" font-size="7.4" text-anchor="middle" >+</text>
<text x="375.8" y="229.6" font-size="7.4" text-anchor="middle" >+</text>
<text x="387.6" y="229.6" font-size="7.4" text-anchor="start" textLength="3.6" lengthAdjust="spacingAndGlyphs" >−</text>
<text x="402.2" y="229.6" font-size="7.4" text-anchor="start" textLength="3.6" lengthAdjust="spacingAndGlyphs" >−</text>
<text x="418.2" y="229.6" font-size="7.4" text-anchor="middle" >+</text>
<text x="431.6" y="229.6" font-size="7.4" text-anchor="middle" >+</text>
<text x="280.8" y="240.9" font-size="7.4" text-anchor="start" textLength="40" lengthAdjust="spacingAndGlyphs" >Grb2(W193K)</text>
<text x="329.0" y="240.9" font-size="7.4" text-anchor="start" textLength="3.6" lengthAdjust="spacingAndGlyphs" >−</text>
<text x="345.6" y="240.9" font-size="7.4" text-anchor="middle" >+</text>
<text x="359.6" y="240.9" font-size="7.4" text-anchor="start" textLength="3.6" lengthAdjust="spacingAndGlyphs" >−</text>
<text x="375.8" y="240.9" font-size="7.4" text-anchor="middle" >+</text>
<text x="387.6" y="240.9" font-size="7.4" text-anchor="start" textLength="3.6" lengthAdjust="spacingAndGlyphs" >−</text>
<text x="404.0" y="240.9" font-size="7.4" text-anchor="middle" >+</text>
<text x="416.4" y="240.9" font-size="7.4" text-anchor="start" textLength="3.6" lengthAdjust="spacingAndGlyphs" >−</text>
<text x="431.6" y="240.9" font-size="7.4" text-anchor="middle" >+</text>
<text x="281.0" y="251.0" font-size="7.4" text-anchor="start" textLength="37.7" lengthAdjust="spacingAndGlyphs" >α-IgM F(ab′)</text>
<text x="319.2" y="252.4" font-size="4.6" text-anchor="start" >2</text>
<text x="330.8" y="251.0" font-size="7.4" text-anchor="middle" textLength="5.23" lengthAdjust="spacingAndGlyphs" >2′</text>
<text x="345.6" y="251.0" font-size="7.4" text-anchor="middle" textLength="5.23" lengthAdjust="spacingAndGlyphs" >2′</text>
<text x="361.4" y="251.0" font-size="7.4" text-anchor="middle" textLength="5.23" lengthAdjust="spacingAndGlyphs" >2′</text>
<text x="375.8" y="251.0" font-size="7.4" text-anchor="middle" textLength="5.23" lengthAdjust="spacingAndGlyphs" >2′</text>
<text x="389.4" y="251.0" font-size="7.4" text-anchor="middle" textLength="9.14" lengthAdjust="spacingAndGlyphs" >10′</text>
<text x="404.0" y="251.0" font-size="7.4" text-anchor="middle" textLength="9.14" lengthAdjust="spacingAndGlyphs" >10′</text>
<text x="418.2" y="251.0" font-size="7.4" text-anchor="middle" textLength="9.14" lengthAdjust="spacingAndGlyphs" >10′</text>
<text x="431.6" y="251.0" font-size="7.4" text-anchor="middle" textLength="9.14" lengthAdjust="spacingAndGlyphs" >10′</text>
<rect x="323.4" y="256.2" width="115.20" height="15.80" rx="0.6" fill="#f4f4f4" stroke="#3c3c3c" stroke-width="1.3"/>
<rect x="327.50" y="263.60" width="11.00" height="1.40" rx="1.38" ry="0.70" fill="#141414" fill-opacity="0.22" filter="url(#bl)"/>
<rect x="341.70" y="263.15" width="11.80" height="1.90" rx="1.48" ry="0.95" fill="#141414" fill-opacity="0.45" filter="url(#bl)"/>
<rect x="355.90" y="262.70" width="11.80" height="2.20" rx="1.48" ry="1.10" fill="#141414" fill-opacity="0.95" filter="url(#bl)"/>
<rect x="369.20" y="262.30" width="11.80" height="2.20" rx="1.48" ry="1.10" fill="#141414" fill-opacity="1" filter="url(#bl)"/>
<rect x="384.00" y="262.55" width="11.00" height="1.50" rx="1.38" ry="0.75" fill="#141414" fill-opacity="0.3" filter="url(#bl)"/>
<rect x="397.30" y="261.70" width="11.00" height="2.00" rx="1.38" ry="1.00" fill="#141414" fill-opacity="0.65" filter="url(#bl)"/>
<rect x="410.70" y="260.75" width="11.80" height="2.30" rx="1.48" ry="1.15" fill="#141414" fill-opacity="0.85" filter="url(#bl)"/>
<rect x="424.90" y="259.70" width="11.80" height="2.80" rx="1.48" ry="1.40" fill="#141414" fill-opacity="0.95" filter="url(#bl)"/>
<text x="281.7" y="269.1" font-size="8.1" text-anchor="start" textLength="38.9" lengthAdjust="spacingAndGlyphs" >pSyk (pY352)</text>
<text x="326.64" y="278.5" font-size="6.3" text-anchor="start" textLength="8.32" lengthAdjust="spacingAndGlyphs" class="n">1.0</text>
<text x="341.44" y="278.5" font-size="6.3" text-anchor="start" textLength="8.32" lengthAdjust="spacingAndGlyphs" class="n">1.8</text>
<text x="357.24" y="278.5" font-size="6.3" text-anchor="start" textLength="8.32" lengthAdjust="spacingAndGlyphs" class="n">4.0</text>
<text x="371.64" y="278.5" font-size="6.3" text-anchor="start" textLength="8.32" lengthAdjust="spacingAndGlyphs" class="n">4.5</text>
<text x="385.24" y="278.5" font-size="6.3" text-anchor="start" textLength="8.32" lengthAdjust="spacingAndGlyphs" class="n">1.0</text>
<text x="399.84" y="278.5" font-size="6.3" text-anchor="start" textLength="8.32" lengthAdjust="spacingAndGlyphs" class="n">2.0</text>
<text x="414.04" y="278.5" font-size="6.3" text-anchor="start" textLength="8.32" lengthAdjust="spacingAndGlyphs" class="n">2.5</text>
<text x="427.44" y="278.5" font-size="6.3" text-anchor="start" textLength="8.32" lengthAdjust="spacingAndGlyphs" class="n">4.5</text>
<rect x="323.4" y="281.0" width="115.20" height="15.60" rx="0.6" fill="#f1f1f1" stroke="#3c3c3c" stroke-width="1.3"/>
<rect x="326.50" y="282.00" width="13.00" height="13.00" fill="#555" fill-opacity="0.1" filter="url(#bl2)"/>
<rect x="341.10" y="282.00" width="13.00" height="13.00" fill="#555" fill-opacity="0.1" filter="url(#bl2)"/>
<rect x="355.30" y="282.00" width="13.00" height="13.00" fill="#555" fill-opacity="0.1" filter="url(#bl2)"/>
<rect x="368.60" y="282.00" width="13.00" height="13.00" fill="#555" fill-opacity="0.1" filter="url(#bl2)"/>
<rect x="383.00" y="282.00" width="13.00" height="13.00" fill="#555" fill-opacity="0.1" filter="url(#bl2)"/>
<rect x="396.30" y="282.00" width="13.00" height="13.00" fill="#555" fill-opacity="0.1" filter="url(#bl2)"/>
<rect x="410.10" y="282.00" width="13.00" height="13.00" fill="#555" fill-opacity="0.1" filter="url(#bl2)"/>
<rect x="424.30" y="282.00" width="13.00" height="13.00" fill="#555" fill-opacity="0.1" filter="url(#bl2)"/>
<ellipse cx="333.00" cy="287.80" rx="6.75" ry="1.45" fill="#141414" fill-opacity="0.9" filter="url(#bl)"/>
<ellipse cx="347.60" cy="287.80" rx="6.75" ry="1.45" fill="#141414" fill-opacity="0.75" filter="url(#bl)"/>
<ellipse cx="361.80" cy="287.80" rx="6.75" ry="1.45" fill="#141414" fill-opacity="0.7" filter="url(#bl)"/>
<ellipse cx="375.10" cy="287.80" rx="6.75" ry="1.45" fill="#141414" fill-opacity="0.5" filter="url(#bl)"/>
<ellipse cx="389.50" cy="287.80" rx="6.75" ry="1.45" fill="#141414" fill-opacity="0.55" filter="url(#bl)"/>
<ellipse cx="402.80" cy="287.80" rx="6.75" ry="1.45" fill="#141414" fill-opacity="0.55" filter="url(#bl)"/>
<ellipse cx="416.60" cy="287.80" rx="6.75" ry="1.45" fill="#141414" fill-opacity="0.6" filter="url(#bl)"/>
<ellipse cx="430.80" cy="287.80" rx="6.75" ry="1.45" fill="#141414" fill-opacity="0.85" filter="url(#bl)"/>
<text x="310.2" y="292.6" font-size="8.1" text-anchor="start" textLength="10.4" lengthAdjust="spacingAndGlyphs" >Syk</text>
<rect x="323.4" y="299.6" width="115.20" height="15.80" rx="0.6" fill="#f4f4f4" stroke="#3c3c3c" stroke-width="1.3"/>
<rect x="327.00" y="304.70" width="10.00" height="1.20" rx="2.00" ry="0.60" fill="#141414" fill-opacity="0.12" filter="url(#bl)"/>
<rect x="342.50" y="306.70" width="10.20" height="1.80" rx="2.04" ry="0.90" fill="#141414" fill-opacity="0.75" filter="url(#bl)"/>
<rect x="355.90" y="306.70" width="11.00" height="2.80" rx="2.20" ry="1.40" fill="#141414" fill-opacity="1" filter="url(#bl)"/>
<rect x="369.20" y="305.20" width="11.10" height="5.60" rx="2.22" ry="2.80" fill="#141414" fill-opacity="1" filter="url(#bl)"/>
<rect x="385.00" y="306.80" width="9.00" height="1.50" rx="1.80" ry="0.75" fill="#141414" fill-opacity="0.3" filter="url(#bl)"/>
<rect x="395.70" y="306.70" width="11.90" height="2.70" rx="2.38" ry="1.35" fill="#141414" fill-opacity="0.9" filter="url(#bl)"/>
<rect x="410.00" y="306.30" width="11.70" height="3.20" rx="2.34" ry="1.60" fill="#141414" fill-opacity="1" filter="url(#bl)"/>
<rect x="423.30" y="305.40" width="12.60" height="3.90" rx="2.52" ry="1.95" fill="#141414" fill-opacity="1" filter="url(#bl)"/>
<rect x="356.50" y="303.10" width="9.50" height="1.50" rx="1.66" ry="0.75" fill="#141414" fill-opacity="0.3" filter="url(#bl)"/>
<text x="279.5" y="312.3" font-size="8.1" text-anchor="start" textLength="41.1" lengthAdjust="spacingAndGlyphs" >pBLNK (pY84)</text>
<text x="326.64" y="322.2" font-size="6.3" text-anchor="start" textLength="8.32" lengthAdjust="spacingAndGlyphs" class="n">1.0</text>
<text x="341.44" y="322.2" font-size="6.3" text-anchor="start" textLength="8.32" lengthAdjust="spacingAndGlyphs" class="n">2.5</text>
<text x="357.24" y="322.2" font-size="6.3" text-anchor="start" textLength="8.32" lengthAdjust="spacingAndGlyphs" class="n">5.0</text>
<text x="372.47" y="322.2" font-size="6.3" text-anchor="start" textLength="6.66" lengthAdjust="spacingAndGlyphs" class="n">13</text>
<text x="385.24" y="322.2" font-size="6.3" text-anchor="start" textLength="8.32" lengthAdjust="spacingAndGlyphs" class="n">1.5</text>
<text x="399.84" y="322.2" font-size="6.3" text-anchor="start" textLength="8.32" lengthAdjust="spacingAndGlyphs" class="n">3.0</text>
<text x="414.04" y="322.2" font-size="6.3" text-anchor="start" textLength="8.32" lengthAdjust="spacingAndGlyphs" class="n">6.5</text>
<text x="428.49" y="322.2" font-size="6.3" text-anchor="start" textLength="6.21" lengthAdjust="spacingAndGlyphs" class="n">11</text>
<rect x="323.4" y="323.0" width="115.20" height="16.80" rx="0.6" fill="#f6f6f6" stroke="#3c3c3c" stroke-width="1.3"/>
<rect x="326.00" y="329.20" width="12.00" height="3.30" rx="2.70" ry="1.65" fill="#141414" fill-opacity="0.95" filter="url(#bl)"/>
<rect x="341.20" y="329.20" width="11.30" height="3.30" rx="2.54" ry="1.65" fill="#141414" fill-opacity="0.95" filter="url(#bl)"/>
<rect x="355.60" y="329.20" width="11.30" height="3.30" rx="2.54" ry="1.65" fill="#141414" fill-opacity="0.95" filter="url(#bl)"/>
<rect x="369.30" y="328.70" width="10.80" height="4.40" rx="2.43" ry="2.20" fill="#141414" fill-opacity="0.95" filter="url(#bl)"/>
<rect x="383.70" y="329.20" width="10.40" height="3.30" rx="2.34" ry="1.65" fill="#141414" fill-opacity="0.95" filter="url(#bl)"/>
<rect x="397.00" y="329.20" width="11.90" height="3.30" rx="2.68" ry="1.65" fill="#141414" fill-opacity="0.95" filter="url(#bl)"/>
<rect x="411.00" y="329.20" width="11.20" height="3.30" rx="2.52" ry="1.65" fill="#141414" fill-opacity="0.95" filter="url(#bl)"/>
<rect x="425.00" y="329.20" width="11.60" height="3.30" rx="2.61" ry="1.65" fill="#141414" fill-opacity="0.95" filter="url(#bl)"/>
<rect x="384.00" y="325.20" width="10.00" height="4.30" fill="#555" fill-opacity="0.3" filter="url(#bl2)"/>
<text x="303.4" y="336.2" font-size="8.1" text-anchor="start" textLength="17.1" lengthAdjust="spacingAndGlyphs" >BLNK</text>
<rect x="323.4" y="341.2" width="115.20" height="21.40" rx="0.6" fill="#f0f0f0" stroke="#3c3c3c" stroke-width="1.3"/>
<rect x="342.80" y="344.80" width="12.10" height="2.30" rx="1.81" ry="1.15" fill="#141414" fill-opacity="0.95" filter="url(#bl)"/>
<rect x="371.70" y="344.80" width="11.30" height="2.30" rx="1.70" ry="1.15" fill="#141414" fill-opacity="0.95" filter="url(#bl)"/>
<rect x="399.30" y="344.80" width="11.60" height="2.30" rx="1.74" ry="1.15" fill="#141414" fill-opacity="0.95" filter="url(#bl)"/>
<rect x="425.80" y="344.80" width="12.00" height="2.30" rx="1.80" ry="1.15" fill="#141414" fill-opacity="0.95" filter="url(#bl)"/>
<rect x="325" y="358.7" width="112.5" height="1.8" fill="#1a1a1a" opacity="0.9" filter="url(#bl)"/>
<text x="305.8" y="355.1" font-size="8.1" text-anchor="start" textLength="14.7" lengthAdjust="spacingAndGlyphs" >Grb2</text>
<rect x="323.4" y="364.4" width="115.20" height="16.00" rx="0.6" fill="#efefef" stroke="#3c3c3c" stroke-width="1.3"/>
<rect x="350.40" y="369.40" width="14.00" height="6.30" rx="3.50" ry="3.15" fill="#141414" fill-opacity="1" filter="url(#bl)"/>
<rect x="364.60" y="369.40" width="13.60" height="6.30" rx="3.40" ry="3.15" fill="#141414" fill-opacity="1" filter="url(#bl)"/>
<rect x="406.00" y="369.40" width="14.40" height="6.30" rx="3.60" ry="3.15" fill="#141414" fill-opacity="1" filter="url(#bl)"/>
<rect x="420.60" y="369.40" width="14.60" height="6.30" rx="3.65" ry="3.15" fill="#141414" fill-opacity="1" filter="url(#bl)"/>
<text x="303.8" y="376.7" font-size="8.1" text-anchor="start" textLength="16.7" lengthAdjust="spacingAndGlyphs" >HGAL</text>
<rect x="323.4" y="383.9" width="115.20" height="15.30" rx="0.6" fill="#f7f7f7" stroke="#3c3c3c" stroke-width="1.3"/>
<rect x="326.00" y="388.80" width="11.00" height="2.90" rx="2.48" ry="1.45" fill="#141414" fill-opacity="0.95" filter="url(#bl)"/>
<rect x="340.40" y="388.80" width="10.90" height="2.90" rx="2.45" ry="1.45" fill="#141414" fill-opacity="0.95" filter="url(#bl)"/>
<rect x="354.40" y="388.80" width="8.40" height="2.90" rx="1.89" ry="1.45" fill="#141414" fill-opacity="0.95" filter="url(#bl)"/>
<rect x="368.10" y="388.80" width="9.10" height="2.90" rx="2.05" ry="1.45" fill="#141414" fill-opacity="0.95" filter="url(#bl)"/>
<rect x="383.70" y="388.80" width="10.80" height="2.90" rx="2.43" ry="1.45" fill="#141414" fill-opacity="0.95" filter="url(#bl)"/>
<rect x="397.40" y="388.80" width="11.10" height="2.90" rx="2.50" ry="1.45" fill="#141414" fill-opacity="0.95" filter="url(#bl)"/>
<rect x="411.30" y="388.80" width="10.90" height="2.90" rx="2.45" ry="1.45" fill="#141414" fill-opacity="0.95" filter="url(#bl)"/>
<rect x="425.80" y="388.80" width="10.80" height="2.90" rx="2.43" ry="1.45" fill="#141414" fill-opacity="0.95" filter="url(#bl)"/>
<text x="304.8" y="393.3" font-size="8.1" text-anchor="start" textLength="15.7" lengthAdjust="spacingAndGlyphs" >Actin</text>
<line x1="440" y1="264.5" x2="443.6" y2="264.5" stroke="#111" stroke-width="1"/>
<text x="446.8" y="266.8" font-size="7.4" text-anchor="start" textLength="20" lengthAdjust="spacingAndGlyphs" >72 kDa</text>
<line x1="440" y1="290.5" x2="443.6" y2="290.5" stroke="#111" stroke-width="1"/>
<text x="446.8" y="292.8" font-size="7.4" text-anchor="start" textLength="20" lengthAdjust="spacingAndGlyphs" >72 kDa</text>
<line x1="440" y1="310.1" x2="443.6" y2="310.1" stroke="#111" stroke-width="1"/>
<text x="446.8" y="312.40000000000003" font-size="7.4" text-anchor="start" textLength="20" lengthAdjust="spacingAndGlyphs" >72 kDa</text>
<line x1="440" y1="332.8" x2="443.6" y2="332.8" stroke="#111" stroke-width="1"/>
<text x="446.8" y="335.1" font-size="7.4" text-anchor="start" textLength="20" lengthAdjust="spacingAndGlyphs" >72 kDa</text>
<line x1="440" y1="346.1" x2="443.6" y2="346.1" stroke="#111" stroke-width="1"/>
<text x="446.8" y="348.40000000000003" font-size="7.4" text-anchor="start" textLength="20" lengthAdjust="spacingAndGlyphs" >50 kDa</text>
<line x1="440" y1="360.1" x2="443.6" y2="360.1" stroke="#111" stroke-width="1"/>
<text x="446.8" y="362.40000000000003" font-size="7.4" text-anchor="start" textLength="20" lengthAdjust="spacingAndGlyphs" >27 kDa</text>
<line x1="440" y1="372.5" x2="443.6" y2="372.5" stroke="#111" stroke-width="1"/>
<text x="446.8" y="374.8" font-size="7.4" text-anchor="start" textLength="20" lengthAdjust="spacingAndGlyphs" >50 kDa</text>
<line x1="440" y1="389.6" x2="443.6" y2="389.6" stroke="#111" stroke-width="1"/>
<text x="446.8" y="391.90000000000003" font-size="7.4" text-anchor="start" textLength="20" lengthAdjust="spacingAndGlyphs" >42 kDa</text>
<rect x="0" y="0" width="520" height="1" fill="#000"/><rect x="0" y="0" width="1" height="406" fill="#000"/><rect x="518.4" y="0" width="1.6" height="406" fill="#000"/><rect x="0" y="404.4" width="520" height="1.6" fill="#000"/>
</svg>
</body></html>
